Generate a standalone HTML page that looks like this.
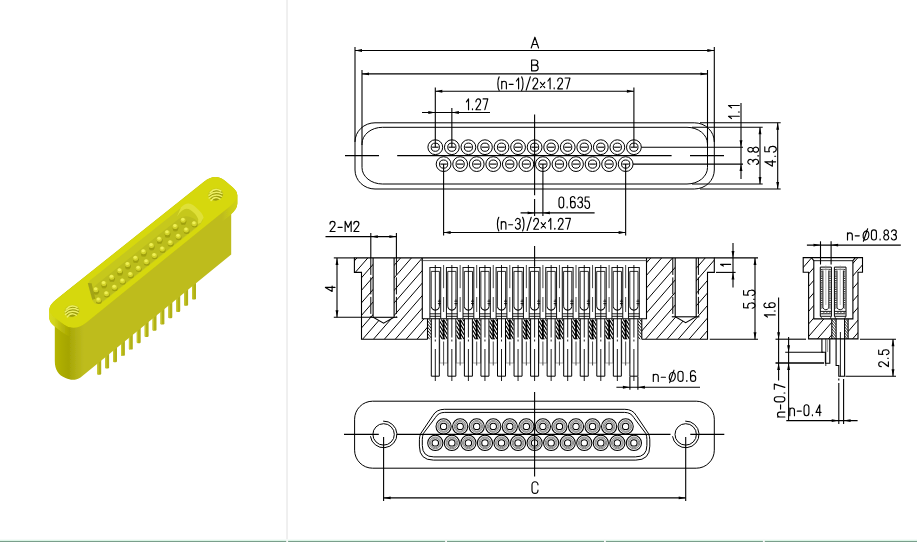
<!DOCTYPE html>
<html><head><meta charset="utf-8"><title>Connector drawing</title>
<style>
html,body{margin:0;padding:0;background:#fff;}
body{width:917px;height:542px;overflow:hidden;font-family:"Liberation Sans",sans-serif;}
svg{display:block;}
</style></head><body>
<svg width="917" height="542" viewBox="0 0 917 542">
<rect x="0" y="0" width="917" height="542" fill="#fff"/>
<rect x="286.1" y="0" width="1.9" height="542" fill="#efefef"/>
<rect x="0" y="539" width="917" height="1" fill="#f5fbf8"/>
<rect x="0" y="540" width="917" height="1" fill="#dbf5e6"/>
<rect x="0" y="541" width="917" height="1" fill="#7a9f8c"/>
<rect x="286.2" y="539.5" width="1.9" height="2.5" fill="#f6f6f6"/>
<rect x="445.1" y="539.5" width="1.9" height="2.5" fill="#f6f6f6"/>
<rect x="604.0" y="539.5" width="1.9" height="2.5" fill="#f6f6f6"/>
<rect x="762.9" y="539.5" width="1.9" height="2.5" fill="#f6f6f6"/>
<rect x="355" y="122.8" width="359.3" height="66.2" rx="20" ry="19" fill="none" stroke="#000" stroke-width="1"/>
<rect x="362" y="127.3" width="345.5" height="56.7" rx="20.5" ry="16.5" fill="none" stroke="#000" stroke-width="1"/>
<line x1="700" y1="122.8" x2="780.7" y2="122.8" stroke="#000" stroke-width="1.1" />
<line x1="700" y1="189" x2="780.7" y2="189" stroke="#000" stroke-width="1.1" />
<line x1="692" y1="127.3" x2="762.7" y2="127.3" stroke="#000" stroke-width="1.1" />
<line x1="692" y1="184" x2="762.7" y2="184" stroke="#000" stroke-width="1.1" />
<line x1="355" y1="47" x2="355" y2="142" stroke="#000" stroke-width="1.1" />
<line x1="714.3" y1="47" x2="714.3" y2="142" stroke="#000" stroke-width="1.1" />
<line x1="362" y1="70" x2="362" y2="145" stroke="#000" stroke-width="1.1" />
<line x1="707.5" y1="70" x2="707.5" y2="145" stroke="#000" stroke-width="1.1" />
<circle cx="435.3" cy="147.2" r="7.4" fill="none" stroke="#000" stroke-width="1"/>
<circle cx="435.3" cy="147.2" r="4.1" fill="none" stroke="#000" stroke-width="1"/>
<line x1="432.1" y1="147.2" x2="438.5" y2="147.2" stroke="#000" stroke-width="1.1" />
<circle cx="451.85" cy="147.2" r="7.4" fill="none" stroke="#000" stroke-width="1"/>
<circle cx="451.85" cy="147.2" r="4.1" fill="none" stroke="#000" stroke-width="1"/>
<line x1="448.65" y1="147.2" x2="455.05" y2="147.2" stroke="#000" stroke-width="1.1" />
<circle cx="468.4" cy="147.2" r="7.4" fill="none" stroke="#000" stroke-width="1"/>
<circle cx="468.4" cy="147.2" r="4.1" fill="none" stroke="#000" stroke-width="1"/>
<line x1="465.2" y1="147.2" x2="471.6" y2="147.2" stroke="#000" stroke-width="1.1" />
<circle cx="484.95" cy="147.2" r="7.4" fill="none" stroke="#000" stroke-width="1"/>
<circle cx="484.95" cy="147.2" r="4.1" fill="none" stroke="#000" stroke-width="1"/>
<line x1="481.75" y1="147.2" x2="488.15" y2="147.2" stroke="#000" stroke-width="1.1" />
<circle cx="501.5" cy="147.2" r="7.4" fill="none" stroke="#000" stroke-width="1"/>
<circle cx="501.5" cy="147.2" r="4.1" fill="none" stroke="#000" stroke-width="1"/>
<line x1="498.3" y1="147.2" x2="504.7" y2="147.2" stroke="#000" stroke-width="1.1" />
<circle cx="518.05" cy="147.2" r="7.4" fill="none" stroke="#000" stroke-width="1"/>
<circle cx="518.05" cy="147.2" r="4.1" fill="none" stroke="#000" stroke-width="1"/>
<line x1="514.85" y1="147.2" x2="521.25" y2="147.2" stroke="#000" stroke-width="1.1" />
<circle cx="534.6" cy="147.2" r="7.4" fill="none" stroke="#000" stroke-width="1"/>
<circle cx="534.6" cy="147.2" r="4.1" fill="none" stroke="#000" stroke-width="1"/>
<line x1="531.4" y1="147.2" x2="537.8" y2="147.2" stroke="#000" stroke-width="1.1" />
<circle cx="551.15" cy="147.2" r="7.4" fill="none" stroke="#000" stroke-width="1"/>
<circle cx="551.15" cy="147.2" r="4.1" fill="none" stroke="#000" stroke-width="1"/>
<line x1="547.95" y1="147.2" x2="554.35" y2="147.2" stroke="#000" stroke-width="1.1" />
<circle cx="567.7" cy="147.2" r="7.4" fill="none" stroke="#000" stroke-width="1"/>
<circle cx="567.7" cy="147.2" r="4.1" fill="none" stroke="#000" stroke-width="1"/>
<line x1="564.5" y1="147.2" x2="570.9" y2="147.2" stroke="#000" stroke-width="1.1" />
<circle cx="584.25" cy="147.2" r="7.4" fill="none" stroke="#000" stroke-width="1"/>
<circle cx="584.25" cy="147.2" r="4.1" fill="none" stroke="#000" stroke-width="1"/>
<line x1="581.05" y1="147.2" x2="587.45" y2="147.2" stroke="#000" stroke-width="1.1" />
<circle cx="600.8" cy="147.2" r="7.4" fill="none" stroke="#000" stroke-width="1"/>
<circle cx="600.8" cy="147.2" r="4.1" fill="none" stroke="#000" stroke-width="1"/>
<line x1="597.6" y1="147.2" x2="604" y2="147.2" stroke="#000" stroke-width="1.1" />
<circle cx="617.35" cy="147.2" r="7.4" fill="none" stroke="#000" stroke-width="1"/>
<circle cx="617.35" cy="147.2" r="4.1" fill="none" stroke="#000" stroke-width="1"/>
<line x1="614.15" y1="147.2" x2="620.55" y2="147.2" stroke="#000" stroke-width="1.1" />
<circle cx="633.9" cy="147.2" r="7.4" fill="none" stroke="#000" stroke-width="1"/>
<circle cx="633.9" cy="147.2" r="4.1" fill="none" stroke="#000" stroke-width="1"/>
<line x1="630.7" y1="147.2" x2="637.1" y2="147.2" stroke="#000" stroke-width="1.1" />
<circle cx="443.6" cy="164.1" r="7.4" fill="none" stroke="#000" stroke-width="1"/>
<circle cx="443.6" cy="164.1" r="4.1" fill="none" stroke="#000" stroke-width="1"/>
<line x1="440.4" y1="164.1" x2="446.8" y2="164.1" stroke="#000" stroke-width="1.1" />
<circle cx="460.15" cy="164.1" r="7.4" fill="none" stroke="#000" stroke-width="1"/>
<circle cx="460.15" cy="164.1" r="4.1" fill="none" stroke="#000" stroke-width="1"/>
<line x1="456.95" y1="164.1" x2="463.35" y2="164.1" stroke="#000" stroke-width="1.1" />
<circle cx="476.7" cy="164.1" r="7.4" fill="none" stroke="#000" stroke-width="1"/>
<circle cx="476.7" cy="164.1" r="4.1" fill="none" stroke="#000" stroke-width="1"/>
<line x1="473.5" y1="164.1" x2="479.9" y2="164.1" stroke="#000" stroke-width="1.1" />
<circle cx="493.25" cy="164.1" r="7.4" fill="none" stroke="#000" stroke-width="1"/>
<circle cx="493.25" cy="164.1" r="4.1" fill="none" stroke="#000" stroke-width="1"/>
<line x1="490.05" y1="164.1" x2="496.45" y2="164.1" stroke="#000" stroke-width="1.1" />
<circle cx="509.8" cy="164.1" r="7.4" fill="none" stroke="#000" stroke-width="1"/>
<circle cx="509.8" cy="164.1" r="4.1" fill="none" stroke="#000" stroke-width="1"/>
<line x1="506.6" y1="164.1" x2="513" y2="164.1" stroke="#000" stroke-width="1.1" />
<circle cx="526.35" cy="164.1" r="7.4" fill="none" stroke="#000" stroke-width="1"/>
<circle cx="526.35" cy="164.1" r="4.1" fill="none" stroke="#000" stroke-width="1"/>
<line x1="523.15" y1="164.1" x2="529.55" y2="164.1" stroke="#000" stroke-width="1.1" />
<circle cx="542.9" cy="164.1" r="7.4" fill="none" stroke="#000" stroke-width="1"/>
<circle cx="542.9" cy="164.1" r="4.1" fill="none" stroke="#000" stroke-width="1"/>
<line x1="539.7" y1="164.1" x2="546.1" y2="164.1" stroke="#000" stroke-width="1.1" />
<circle cx="559.45" cy="164.1" r="7.4" fill="none" stroke="#000" stroke-width="1"/>
<circle cx="559.45" cy="164.1" r="4.1" fill="none" stroke="#000" stroke-width="1"/>
<line x1="556.25" y1="164.1" x2="562.65" y2="164.1" stroke="#000" stroke-width="1.1" />
<circle cx="576" cy="164.1" r="7.4" fill="none" stroke="#000" stroke-width="1"/>
<circle cx="576" cy="164.1" r="4.1" fill="none" stroke="#000" stroke-width="1"/>
<line x1="572.8" y1="164.1" x2="579.2" y2="164.1" stroke="#000" stroke-width="1.1" />
<circle cx="592.55" cy="164.1" r="7.4" fill="none" stroke="#000" stroke-width="1"/>
<circle cx="592.55" cy="164.1" r="4.1" fill="none" stroke="#000" stroke-width="1"/>
<line x1="589.35" y1="164.1" x2="595.75" y2="164.1" stroke="#000" stroke-width="1.1" />
<circle cx="609.1" cy="164.1" r="7.4" fill="none" stroke="#000" stroke-width="1"/>
<circle cx="609.1" cy="164.1" r="4.1" fill="none" stroke="#000" stroke-width="1"/>
<line x1="605.9" y1="164.1" x2="612.3" y2="164.1" stroke="#000" stroke-width="1.1" />
<circle cx="625.65" cy="164.1" r="7.4" fill="none" stroke="#000" stroke-width="1"/>
<circle cx="625.65" cy="164.1" r="4.1" fill="none" stroke="#000" stroke-width="1"/>
<line x1="622.45" y1="164.1" x2="628.85" y2="164.1" stroke="#000" stroke-width="1.1" />
<line x1="345" y1="155.65" x2="379" y2="155.65" stroke="#000" stroke-width="1.1" />
<line x1="397.2" y1="155.65" x2="671.6" y2="155.65" stroke="#000" stroke-width="1.1" />
<line x1="690" y1="155.65" x2="724" y2="155.65" stroke="#000" stroke-width="1.1" />
<line x1="435.3" y1="87.5" x2="435.3" y2="147.2" stroke="#000" stroke-width="1.1" />
<line x1="451.85" y1="108" x2="451.85" y2="147.2" stroke="#000" stroke-width="1.1" />
<line x1="633.9" y1="87.5" x2="633.9" y2="147.2" stroke="#000" stroke-width="1.1" />
<line x1="534.6" y1="114.5" x2="534.6" y2="195.3" stroke="#000" stroke-width="1.1" />
<line x1="534.6" y1="199" x2="534.6" y2="216" stroke="#000" stroke-width="1.1" />
<line x1="542.9" y1="164.1" x2="542.9" y2="216" stroke="#000" stroke-width="1.1" />
<line x1="443.6" y1="164.1" x2="443.6" y2="235.6" stroke="#000" stroke-width="1.1" />
<line x1="625.65" y1="164.1" x2="625.65" y2="235.6" stroke="#000" stroke-width="1.1" />
<line x1="355" y1="50.5" x2="714.3" y2="50.5" stroke="#000" stroke-width="1.1" />
<polygon points="355,50.5 362,49.05 362,51.95" fill="#000"/>
<polygon points="714.3,50.5 707.3,49.05 707.3,51.95" fill="#000"/>
<line x1="362" y1="73.9" x2="707.5" y2="73.9" stroke="#000" stroke-width="1.1" />
<polygon points="362,73.9 369,72.45 369,75.35" fill="#000"/>
<polygon points="707.5,73.9 700.5,72.45 700.5,75.35" fill="#000"/>
<line x1="435.3" y1="91.3" x2="633.9" y2="91.3" stroke="#000" stroke-width="1.1" />
<polygon points="435.3,91.3 442.3,89.85 442.3,92.75" fill="#000"/>
<polygon points="633.9,91.3 626.9,89.85 626.9,92.75" fill="#000"/>
<line x1="422" y1="112.5" x2="490" y2="112.5" stroke="#000" stroke-width="1.1" />
<polygon points="435.3,112.5 428.3,111.05 428.3,113.95" fill="#000"/>
<polygon points="451.85,112.5 458.85,111.05 458.85,113.95" fill="#000"/>
<line x1="520.6" y1="212.9" x2="594.6" y2="212.9" stroke="#000" stroke-width="1.1" />
<polygon points="534.6,212.9 527.6,211.45 527.6,214.35" fill="#000"/>
<polygon points="542.9,212.9 549.9,211.45 549.9,214.35" fill="#000"/>
<line x1="443.6" y1="232.5" x2="625.65" y2="232.5" stroke="#000" stroke-width="1.1" />
<polygon points="443.6,232.5 450.6,231.05 450.6,233.95" fill="#000"/>
<polygon points="625.65,232.5 618.65,231.05 618.65,233.95" fill="#000"/>
<line x1="641.3" y1="147.2" x2="743" y2="147.2" stroke="#000" stroke-width="1.1" />
<line x1="633.05" y1="164.1" x2="743" y2="164.1" stroke="#000" stroke-width="1.1" />
<line x1="741" y1="103" x2="741" y2="179" stroke="#000" stroke-width="1.1" />
<polygon points="741,147.2 739.55,140.2 742.45,140.2" fill="#000"/>
<polygon points="741,164.1 739.55,171.1 742.45,171.1" fill="#000"/>
<line x1="760" y1="127.3" x2="760" y2="184" stroke="#000" stroke-width="1.1" />
<polygon points="760,127.3 758.55,134.3 761.45,134.3" fill="#000"/>
<polygon points="760,184 758.55,177 761.45,177" fill="#000"/>
<line x1="777.7" y1="122.8" x2="777.7" y2="189" stroke="#000" stroke-width="1.1" />
<polygon points="777.7,122.8 776.25,129.8 779.15,129.8" fill="#000"/>
<polygon points="777.7,189 776.25,182 779.15,182" fill="#000"/>
<g role="img" aria-label="A" transform="translate(531.2,37.2) scale(1.4,1.08)" fill="none" stroke="#000" stroke-width="1.15" vector-effect="non-scaling-stroke" stroke-linecap="round" stroke-linejoin="round">
<path transform="translate(0,0) scale(0.88,1)" d="M0,10 L3,0 L6,10 M1,6.8 L5,6.8" vector-effect="non-scaling-stroke"/>
</g>
<g role="img" aria-label="B" transform="translate(531.6,60) scale(1.36,1.08)" fill="none" stroke="#000" stroke-width="1.15" vector-effect="non-scaling-stroke" stroke-linecap="round" stroke-linejoin="round">
<path transform="translate(0,0) scale(0.88,1)" d="M0,0 L0,10 L2.9,10 A2.6,2.65 0 0 0 2.9,4.7 L0,4.7 M2.9,4.7 A2.3,2.35 0 0 0 2.9,0 L0,0" vector-effect="non-scaling-stroke"/>
</g>
<g role="img" aria-label="(n-1)/2×1.27" transform="translate(497.2,78) scale(1.02,1.08)" fill="none" stroke="#000" stroke-width="1.15" vector-effect="non-scaling-stroke" stroke-linecap="round" stroke-linejoin="round">
<path transform="translate(0,0) scale(0.88,1)" d="M2.2,-1 C0.2,1.5 0.2,9 2.2,11.6" vector-effect="non-scaling-stroke"/>
<path transform="translate(4.44,0) scale(0.88,1)" d="M0,3 L0,10 M0,5.3 A2.6,2.3 0 0 1 5.2,5.3 L5.2,10" vector-effect="non-scaling-stroke"/>
<path transform="translate(11.51,0) scale(0.88,1)" d="M0.3,5.9 L4.7,5.9" vector-effect="non-scaling-stroke"/>
<path transform="translate(18.41,0) scale(0.88,1)" d="M0.5,2.8 L2.9,0 L2.9,10" vector-effect="non-scaling-stroke"/>
<path transform="translate(23.99,0) scale(0.88,1)" d="M0,-1 C2,1.5 2,9 0,11.6" vector-effect="non-scaling-stroke"/>
<path transform="translate(28.43,0) scale(0.88,1)" d="M0,11.2 L4.6,-1" vector-effect="non-scaling-stroke"/>
<path transform="translate(34.98,0) scale(0.88,1)" d="M0,2.7 A2.7,2.7 0 0 1 5.4,2.7 C5.4,4.6 2.6,6.2 0,10 L5.4,10" vector-effect="non-scaling-stroke"/>
<path transform="translate(42.23,0) scale(0.88,1)" d="M0.2,4.0 L5.0,8.9 M5.0,4.0 L0.2,8.9" vector-effect="non-scaling-stroke"/>
<path transform="translate(49.3,0) scale(0.88,1)" d="M0.5,2.8 L2.9,0 L2.9,10" vector-effect="non-scaling-stroke"/>
<path transform="translate(54.88,0) scale(0.88,1)" d="M1.1,9.2 L1.1,10" vector-effect="non-scaling-stroke"/>
<path transform="translate(59.32,0) scale(0.88,1)" d="M0,2.7 A2.7,2.7 0 0 1 5.4,2.7 C5.4,4.6 2.6,6.2 0,10 L5.4,10" vector-effect="non-scaling-stroke"/>
<path transform="translate(66.57,0) scale(0.88,1)" d="M0,0 L5.4,0 L2,10" vector-effect="non-scaling-stroke"/>
</g>
<g role="img" aria-label="1.27" transform="translate(466,98.9) scale(0.99,1.08)" fill="none" stroke="#000" stroke-width="1.15" vector-effect="non-scaling-stroke" stroke-linecap="round" stroke-linejoin="round">
<path transform="translate(0,0) scale(0.88,1)" d="M0.5,2.8 L2.9,0 L2.9,10" vector-effect="non-scaling-stroke"/>
<path transform="translate(5.58,0) scale(0.88,1)" d="M1.1,9.2 L1.1,10" vector-effect="non-scaling-stroke"/>
<path transform="translate(10.02,0) scale(0.88,1)" d="M0,2.7 A2.7,2.7 0 0 1 5.4,2.7 C5.4,4.6 2.6,6.2 0,10 L5.4,10" vector-effect="non-scaling-stroke"/>
<path transform="translate(17.27,0) scale(0.88,1)" d="M0,0 L5.4,0 L2,10" vector-effect="non-scaling-stroke"/>
</g>
<g role="img" aria-label="0.635" transform="translate(559,197) scale(0.99,1.08)" fill="none" stroke="#000" stroke-width="1.15" vector-effect="non-scaling-stroke" stroke-linecap="round" stroke-linejoin="round">
<path transform="translate(0,0) scale(0.88,1)" d="M0,2.7 A2.7,2.7 0 0 1 5.4,2.7 L5.4,7.3 A2.7,2.7 0 0 1 0,7.3 Z" vector-effect="non-scaling-stroke"/>
<path transform="translate(7.25,0) scale(0.88,1)" d="M1.1,9.2 L1.1,10" vector-effect="non-scaling-stroke"/>
<path transform="translate(11.69,0) scale(0.88,1)" d="M5,1.2 A2.6,2.4 0 0 0 0,2.8 L0,7.3 A2.7,2.7 0 1 0 5.4,7.3 L5.4,6.8 A2.7,2.7 0 0 0 0,6.8" vector-effect="non-scaling-stroke"/>
<path transform="translate(18.94,0) scale(0.88,1)" d="M0.2,2 A2.6,2.4 0 1 1 2.4,4.8 A2.8,2.6 0 1 1 0,8" vector-effect="non-scaling-stroke"/>
<path transform="translate(26.1,0) scale(0.88,1)" d="M5,0 L0.5,0 L0.3,4.3 C1.5,3.4 5.4,3.2 5.4,6.8 A2.7,3.2 0 0 1 0,8" vector-effect="non-scaling-stroke"/>
</g>
<g role="img" aria-label="(n-3)/2×1.27" transform="translate(496.8,218.4) scale(1.01,1.08)" fill="none" stroke="#000" stroke-width="1.15" vector-effect="non-scaling-stroke" stroke-linecap="round" stroke-linejoin="round">
<path transform="translate(0,0) scale(0.88,1)" d="M2.2,-1 C0.2,1.5 0.2,9 2.2,11.6" vector-effect="non-scaling-stroke"/>
<path transform="translate(4.44,0) scale(0.88,1)" d="M0,3 L0,10 M0,5.3 A2.6,2.3 0 0 1 5.2,5.3 L5.2,10" vector-effect="non-scaling-stroke"/>
<path transform="translate(11.51,0) scale(0.88,1)" d="M0.3,5.9 L4.7,5.9" vector-effect="non-scaling-stroke"/>
<path transform="translate(18.41,0) scale(0.88,1)" d="M0.2,2 A2.6,2.4 0 1 1 2.4,4.8 A2.8,2.6 0 1 1 0,8" vector-effect="non-scaling-stroke"/>
<path transform="translate(25.58,0) scale(0.88,1)" d="M0,-1 C2,1.5 2,9 0,11.6" vector-effect="non-scaling-stroke"/>
<path transform="translate(30.01,0) scale(0.88,1)" d="M0,11.2 L4.6,-1" vector-effect="non-scaling-stroke"/>
<path transform="translate(36.56,0) scale(0.88,1)" d="M0,2.7 A2.7,2.7 0 0 1 5.4,2.7 C5.4,4.6 2.6,6.2 0,10 L5.4,10" vector-effect="non-scaling-stroke"/>
<path transform="translate(43.81,0) scale(0.88,1)" d="M0.2,4.0 L5.0,8.9 M5.0,4.0 L0.2,8.9" vector-effect="non-scaling-stroke"/>
<path transform="translate(50.89,0) scale(0.88,1)" d="M0.5,2.8 L2.9,0 L2.9,10" vector-effect="non-scaling-stroke"/>
<path transform="translate(56.47,0) scale(0.88,1)" d="M1.1,9.2 L1.1,10" vector-effect="non-scaling-stroke"/>
<path transform="translate(60.9,0) scale(0.88,1)" d="M0,2.7 A2.7,2.7 0 0 1 5.4,2.7 C5.4,4.6 2.6,6.2 0,10 L5.4,10" vector-effect="non-scaling-stroke"/>
<path transform="translate(68.16,0) scale(0.88,1)" d="M0,0 L5.4,0 L2,10" vector-effect="non-scaling-stroke"/>
</g>
<g role="img" aria-label="1.1" transform="rotate(-90 739.3 119) translate(739.3,108.2) scale(1.07,1.08)" fill="none" stroke="#000" stroke-width="1.15" vector-effect="non-scaling-stroke" stroke-linecap="round" stroke-linejoin="round">
<path transform="translate(0,0) scale(0.88,1)" d="M0.5,2.8 L2.9,0 L2.9,10" vector-effect="non-scaling-stroke"/>
<path transform="translate(5.58,0) scale(0.88,1)" d="M1.1,9.2 L1.1,10" vector-effect="non-scaling-stroke"/>
<path transform="translate(10.02,0) scale(0.88,1)" d="M0.5,2.8 L2.9,0 L2.9,10" vector-effect="non-scaling-stroke"/>
</g>
<g role="img" aria-label="3.8" transform="rotate(-90 758.6 164.4) translate(758.6,153.6) scale(1.05,1.08)" fill="none" stroke="#000" stroke-width="1.15" vector-effect="non-scaling-stroke" stroke-linecap="round" stroke-linejoin="round">
<path transform="translate(0,0) scale(0.88,1)" d="M0.2,2 A2.6,2.4 0 1 1 2.4,4.8 A2.8,2.6 0 1 1 0,8" vector-effect="non-scaling-stroke"/>
<path transform="translate(7.16,0) scale(0.88,1)" d="M1.1,9.2 L1.1,10" vector-effect="non-scaling-stroke"/>
<path transform="translate(11.6,0) scale(0.88,1)" d="M2.7,4.9 A2.4,2.45 0 1 1 2.71,4.9 Z M2.7,4.9 A2.7,2.55 0 1 0 2.71,4.9 Z" vector-effect="non-scaling-stroke"/>
</g>
<g role="img" aria-label="4.5" transform="rotate(-90 775.6 166.2) translate(775.6,155.4) scale(1.19,1.08)" fill="none" stroke="#000" stroke-width="1.15" vector-effect="non-scaling-stroke" stroke-linecap="round" stroke-linejoin="round">
<path transform="translate(0,0) scale(0.88,1)" d="M4.2,10 L4.2,0 L0,7 L5.6,7" vector-effect="non-scaling-stroke"/>
<path transform="translate(7.43,0) scale(0.88,1)" d="M1.1,9.2 L1.1,10" vector-effect="non-scaling-stroke"/>
<path transform="translate(11.86,0) scale(0.88,1)" d="M5,0 L0.5,0 L0.3,4.3 C1.5,3.4 5.4,3.2 5.4,6.8 A2.7,3.2 0 0 1 0,8" vector-effect="non-scaling-stroke"/>
</g>
<defs>
<clipPath id="cpL"><polygon points="354.4,257.9 373.1,257.9 373.1,317.3 383.6,323.2 394.1,317.3 394.1,257.9 422.3,257.9 422.3,318.8 427.5,318.8 427.5,339.3 361.5,339.3 361.5,272.4 354.4,272.4"/></clipPath>
<clipPath id="cpR"><polygon points="714.3,257.9 696.2,257.9 696.2,316.8 685.6,322.7 675.2,316.8 675.2,257.9 646.5,257.9 646.5,318.8 641.8,318.8 641.8,339.3 707.5,339.3 707.5,272.4 714.3,272.4"/></clipPath>
</defs>
<g clip-path="url(#cpL)">
<line x1="264.4" y1="339.3" x2="335.18" y2="257.9" stroke="#000" stroke-width="1.0" />
<line x1="275.3" y1="339.3" x2="346.08" y2="257.9" stroke="#000" stroke-width="1.0" />
<line x1="286.2" y1="339.3" x2="356.98" y2="257.9" stroke="#000" stroke-width="1.0" />
<line x1="297.1" y1="339.3" x2="367.88" y2="257.9" stroke="#000" stroke-width="1.0" />
<line x1="308" y1="339.3" x2="378.78" y2="257.9" stroke="#000" stroke-width="1.0" />
<line x1="318.9" y1="339.3" x2="389.68" y2="257.9" stroke="#000" stroke-width="1.0" />
<line x1="329.8" y1="339.3" x2="400.58" y2="257.9" stroke="#000" stroke-width="1.0" />
<line x1="340.7" y1="339.3" x2="411.48" y2="257.9" stroke="#000" stroke-width="1.0" />
<line x1="351.6" y1="339.3" x2="422.38" y2="257.9" stroke="#000" stroke-width="1.0" />
<line x1="362.5" y1="339.3" x2="433.28" y2="257.9" stroke="#000" stroke-width="1.0" />
<line x1="373.4" y1="339.3" x2="444.18" y2="257.9" stroke="#000" stroke-width="1.0" />
<line x1="384.3" y1="339.3" x2="455.08" y2="257.9" stroke="#000" stroke-width="1.0" />
<line x1="395.2" y1="339.3" x2="465.98" y2="257.9" stroke="#000" stroke-width="1.0" />
<line x1="406.1" y1="339.3" x2="476.88" y2="257.9" stroke="#000" stroke-width="1.0" />
<line x1="417" y1="339.3" x2="487.78" y2="257.9" stroke="#000" stroke-width="1.0" />
<line x1="427.9" y1="339.3" x2="498.68" y2="257.9" stroke="#000" stroke-width="1.0" />
<line x1="438.8" y1="339.3" x2="509.58" y2="257.9" stroke="#000" stroke-width="1.0" />
<line x1="449.7" y1="339.3" x2="520.48" y2="257.9" stroke="#000" stroke-width="1.0" />
<line x1="460.6" y1="339.3" x2="531.38" y2="257.9" stroke="#000" stroke-width="1.0" />
<line x1="471.5" y1="339.3" x2="542.28" y2="257.9" stroke="#000" stroke-width="1.0" />
<line x1="482.4" y1="339.3" x2="553.18" y2="257.9" stroke="#000" stroke-width="1.0" />
<line x1="493.3" y1="339.3" x2="564.08" y2="257.9" stroke="#000" stroke-width="1.0" />
<line x1="504.2" y1="339.3" x2="574.98" y2="257.9" stroke="#000" stroke-width="1.0" />
<line x1="515.1" y1="339.3" x2="585.88" y2="257.9" stroke="#000" stroke-width="1.0" />
</g>
<g clip-path="url(#cpR)">
<line x1="558.2" y1="339.3" x2="628.98" y2="257.9" stroke="#000" stroke-width="1.0" />
<line x1="569.1" y1="339.3" x2="639.88" y2="257.9" stroke="#000" stroke-width="1.0" />
<line x1="580" y1="339.3" x2="650.78" y2="257.9" stroke="#000" stroke-width="1.0" />
<line x1="590.9" y1="339.3" x2="661.68" y2="257.9" stroke="#000" stroke-width="1.0" />
<line x1="601.8" y1="339.3" x2="672.58" y2="257.9" stroke="#000" stroke-width="1.0" />
<line x1="612.7" y1="339.3" x2="683.48" y2="257.9" stroke="#000" stroke-width="1.0" />
<line x1="623.6" y1="339.3" x2="694.38" y2="257.9" stroke="#000" stroke-width="1.0" />
<line x1="634.5" y1="339.3" x2="705.28" y2="257.9" stroke="#000" stroke-width="1.0" />
<line x1="645.4" y1="339.3" x2="716.18" y2="257.9" stroke="#000" stroke-width="1.0" />
<line x1="656.3" y1="339.3" x2="727.08" y2="257.9" stroke="#000" stroke-width="1.0" />
<line x1="667.2" y1="339.3" x2="737.98" y2="257.9" stroke="#000" stroke-width="1.0" />
<line x1="678.1" y1="339.3" x2="748.88" y2="257.9" stroke="#000" stroke-width="1.0" />
<line x1="689" y1="339.3" x2="759.78" y2="257.9" stroke="#000" stroke-width="1.0" />
<line x1="699.9" y1="339.3" x2="770.68" y2="257.9" stroke="#000" stroke-width="1.0" />
<line x1="710.8" y1="339.3" x2="781.58" y2="257.9" stroke="#000" stroke-width="1.0" />
<line x1="721.7" y1="339.3" x2="792.48" y2="257.9" stroke="#000" stroke-width="1.0" />
<line x1="732.6" y1="339.3" x2="803.38" y2="257.9" stroke="#000" stroke-width="1.0" />
<line x1="743.5" y1="339.3" x2="814.28" y2="257.9" stroke="#000" stroke-width="1.0" />
<line x1="754.4" y1="339.3" x2="825.18" y2="257.9" stroke="#000" stroke-width="1.0" />
<line x1="765.3" y1="339.3" x2="836.08" y2="257.9" stroke="#000" stroke-width="1.0" />
<line x1="776.2" y1="339.3" x2="846.98" y2="257.9" stroke="#000" stroke-width="1.0" />
<line x1="787.1" y1="339.3" x2="857.88" y2="257.9" stroke="#000" stroke-width="1.0" />
<line x1="798" y1="339.3" x2="868.78" y2="257.9" stroke="#000" stroke-width="1.0" />
</g>
<path d="M427.5,339.3 L361.5,339.3 L361.5,272.4 L354.4,272.4 L354.4,257.9 L714.3,257.9 L714.3,272.4 L707.5,272.4 L707.5,339.3 L641.8,339.3" stroke="#000" stroke-width="1.1" fill="none" />
<path d="M422.3,257.9 L422.3,318.8 L646.5,318.8 L646.5,257.9" stroke="#000" stroke-width="1.1" fill="none" />
<line x1="421.2" y1="260.6" x2="647.6" y2="260.6" stroke="#333" stroke-width="0.8" />
<path d="M373.1,257.9 L373.1,317.3 L383.6,323.2 L394.1,317.3 L394.1,257.9" stroke="#000" stroke-width="1.1" fill="none" />
<line x1="369.8" y1="317.3" x2="397.4" y2="317.3" stroke="#000" stroke-width="1.1" />
<line x1="370.8" y1="257.9" x2="370.8" y2="317.3" stroke="#000" stroke-width="1" stroke-dasharray="17 2.5"/>
<line x1="396.4" y1="257.9" x2="396.4" y2="317.3" stroke="#000" stroke-width="1" stroke-dasharray="17 2.5"/>
<path d="M675.2,257.9 L675.2,316.8 L685.7,322.7 L696.2,316.8 L696.2,257.9" stroke="#000" stroke-width="1.1" fill="none" />
<line x1="671.8" y1="316.8" x2="699.4" y2="316.8" stroke="#000" stroke-width="1.1" />
<line x1="672.8" y1="257.9" x2="672.8" y2="316.8" stroke="#000" stroke-width="1" stroke-dasharray="17 2.5"/>
<line x1="698.4" y1="257.9" x2="698.4" y2="316.8" stroke="#000" stroke-width="1" stroke-dasharray="17 2.5"/>
<defs><clipPath id="cpnl"><rect x="427.5" y="319.3" width="3.8" height="20.0"/></clipPath><clipPath id="cpnr"><rect x="637.9" y="319.3" width="3.9" height="20.0"/></clipPath></defs>
<g clip-path="url(#cpnl)">
<line x1="427.5" y1="311.04" x2="431.3" y2="315.6" stroke="#000" stroke-width="0.9" />
<line x1="427.5" y1="314.24" x2="431.3" y2="318.8" stroke="#000" stroke-width="0.9" />
<line x1="427.5" y1="317.44" x2="431.3" y2="322" stroke="#000" stroke-width="0.9" />
<line x1="427.5" y1="320.64" x2="431.3" y2="325.2" stroke="#000" stroke-width="0.9" />
<line x1="427.5" y1="323.84" x2="431.3" y2="328.4" stroke="#000" stroke-width="0.9" />
<line x1="427.5" y1="327.04" x2="431.3" y2="331.6" stroke="#000" stroke-width="0.9" />
<line x1="427.5" y1="330.24" x2="431.3" y2="334.8" stroke="#000" stroke-width="0.9" />
<line x1="427.5" y1="333.44" x2="431.3" y2="338" stroke="#000" stroke-width="0.9" />
<line x1="427.5" y1="336.64" x2="431.3" y2="341.2" stroke="#000" stroke-width="0.9" />
<line x1="427.5" y1="339.84" x2="431.3" y2="344.4" stroke="#000" stroke-width="0.9" />
</g>
<g clip-path="url(#cpnr)">
<line x1="637.9" y1="310.92" x2="641.8" y2="315.6" stroke="#000" stroke-width="0.9" />
<line x1="637.9" y1="314.12" x2="641.8" y2="318.8" stroke="#000" stroke-width="0.9" />
<line x1="637.9" y1="317.32" x2="641.8" y2="322" stroke="#000" stroke-width="0.9" />
<line x1="637.9" y1="320.52" x2="641.8" y2="325.2" stroke="#000" stroke-width="0.9" />
<line x1="637.9" y1="323.72" x2="641.8" y2="328.4" stroke="#000" stroke-width="0.9" />
<line x1="637.9" y1="326.92" x2="641.8" y2="331.6" stroke="#000" stroke-width="0.9" />
<line x1="637.9" y1="330.12" x2="641.8" y2="334.8" stroke="#000" stroke-width="0.9" />
<line x1="637.9" y1="333.32" x2="641.8" y2="338" stroke="#000" stroke-width="0.9" />
<line x1="637.9" y1="336.52" x2="641.8" y2="341.2" stroke="#000" stroke-width="0.9" />
<line x1="637.9" y1="339.72" x2="641.8" y2="344.4" stroke="#000" stroke-width="0.9" />
</g>
<line x1="427.5" y1="318.8" x2="427.5" y2="339.3" stroke="#000" stroke-width="1.1" />
<line x1="641.8" y1="318.8" x2="641.8" y2="339.3" stroke="#000" stroke-width="1.1" />
<defs>
<g id="sock" fill="none" stroke="#000">
<path d="M-5.4,318.8 L-5.4,267.5 L5.4,267.5 L5.4,318.8" stroke-width="1.05" stroke="#1a1a1a"/>
<path d="M-4.1,306.5 L-4.1,271.4 L4.1,271.4 L4.1,300.5 M4.1,304.5 L4.1,306.5" stroke-width="1.0" stroke="#2a2a2a"/>
<path d="M-4.1,306.5 Q-3.6,309.6 0,310.2 Q3.6,309.6 4.1,306.5" stroke-width="1.1"/>
<path d="M2.6,301.2 L5.6,301.2 M2.6,303.6 L5.6,303.6 M4.1,299.5 L4.1,305.5" stroke-width="0.9"/>
<path d="M-5.4,313.8 L5.4,313.8 M-5.4,316.3 L5.4,316.3" stroke-width="0.9"/>
<path d="M-4,318.8 L-4,376.2 L4,376.2 L4,318.8" stroke-width="1"/>
<path d="M0,265 L0,337.5 M0,339.5 L0,341.5 M0,349 L0,381" stroke-width="0.9"/>
</g>
<clipPath id="cpmid"><rect x="-3.9" y="319.3" width="7.8" height="20"/></clipPath>
<g id="mid" fill="none" stroke="#000">
<rect x="-3.9" y="319.3" width="7.8" height="20" fill="#fff" stroke="none"/>
<path d="M-3.9,316.8 L-0.6,322.3 M-3.9,321.3 L-0.6,326.8 M-3.9,325.8 L-0.6,331.3 M-3.9,330.3 L-0.6,335.8 M-3.9,334.8 L-0.6,340.3" stroke="#000" stroke-width="1.25" clip-path="url(#cpmid)"/>
<path d="M0.6,315.8 L3.9,321.3 M0.6,320.3 L3.9,325.8 M0.6,324.8 L3.9,330.3 M0.6,329.3 L3.9,334.8 M0.6,333.8 L3.9,339.3 M0.6,338.3 L3.9,343.8" stroke="#000" stroke-width="1.25" clip-path="url(#cpmid)"/>
<path d="M0,319.3 L0,339.3" stroke-width="1.9"/>
<path d="M-3.9,339.3 L-3.9,363 L3.9,363 L3.9,339.3" stroke="#a8a8a8" stroke-width="1.2"/>
<path d="M0,265 L0,288.2 M0,297 L0,312 M0,341.5 L0,365.5" stroke-width="0.9" stroke="#333"/>
</g>
</defs>
<use href="#mid" x="443.6" y="0"/>
<use href="#mid" x="460.15" y="0"/>
<use href="#mid" x="476.7" y="0"/>
<use href="#mid" x="493.25" y="0"/>
<use href="#mid" x="509.8" y="0"/>
<use href="#mid" x="526.35" y="0"/>
<use href="#mid" x="542.9" y="0"/>
<use href="#mid" x="559.45" y="0"/>
<use href="#mid" x="576" y="0"/>
<use href="#mid" x="592.55" y="0"/>
<use href="#mid" x="609.1" y="0"/>
<use href="#mid" x="625.65" y="0"/>
<use href="#sock" x="435.3" y="0"/>
<use href="#sock" x="451.85" y="0"/>
<use href="#sock" x="468.4" y="0"/>
<use href="#sock" x="484.95" y="0"/>
<use href="#sock" x="501.5" y="0"/>
<use href="#sock" x="518.05" y="0"/>
<use href="#sock" x="534.6" y="0"/>
<use href="#sock" x="551.15" y="0"/>
<use href="#sock" x="567.7" y="0"/>
<use href="#sock" x="584.25" y="0"/>
<use href="#sock" x="600.8" y="0"/>
<use href="#sock" x="617.35" y="0"/>
<use href="#sock" x="633.9" y="0"/>
<line x1="534.6" y1="246" x2="534.6" y2="266" stroke="#000" stroke-width="1.1" />
<line x1="325.5" y1="236.6" x2="396.4" y2="236.6" stroke="#000" stroke-width="1.1" />
<line x1="370.8" y1="233" x2="370.8" y2="257.9" stroke="#000" stroke-width="1.1" />
<line x1="396.4" y1="233" x2="396.4" y2="257.9" stroke="#000" stroke-width="1.1" />
<polygon points="370.8,236.6 377.8,235.15 377.8,238.05" fill="#000"/>
<polygon points="396.4,236.6 389.4,235.15 389.4,238.05" fill="#000"/>
<g role="img" aria-label="2-M2" transform="translate(330,221.3) scale(1.07,1.02)" fill="none" stroke="#000" stroke-width="1.15" vector-effect="non-scaling-stroke" stroke-linecap="round" stroke-linejoin="round">
<path transform="translate(0,0) scale(0.88,1)" d="M0,2.7 A2.7,2.7 0 0 1 5.4,2.7 C5.4,4.6 2.6,6.2 0,10 L5.4,10" vector-effect="non-scaling-stroke"/>
<path transform="translate(7.25,0) scale(0.88,1)" d="M0.3,5.9 L4.7,5.9" vector-effect="non-scaling-stroke"/>
<path transform="translate(14.15,0) scale(0.88,1)" d="M0,10 L0,0 L3.2,6 L6.4,0 L6.4,10" vector-effect="non-scaling-stroke"/>
<path transform="translate(22.28,0) scale(0.88,1)" d="M0,2.7 A2.7,2.7 0 0 1 5.4,2.7 C5.4,4.6 2.6,6.2 0,10 L5.4,10" vector-effect="non-scaling-stroke"/>
</g>
<line x1="333.8" y1="257.9" x2="354.4" y2="257.9" stroke="#000" stroke-width="1.1" />
<line x1="333.8" y1="317.3" x2="371" y2="317.3" stroke="#000" stroke-width="1.1" />
<line x1="337" y1="257.9" x2="337" y2="317.3" stroke="#000" stroke-width="1.1" />
<polygon points="337,257.9 335.55,264.9 338.45,264.9" fill="#000"/>
<polygon points="337,317.3 335.55,310.3 338.45,310.3" fill="#000"/>
<g role="img" aria-label="4" transform="rotate(-90 335 291.4) translate(335,281.8) scale(1.08,0.96)" fill="none" stroke="#000" stroke-width="1.15" vector-effect="non-scaling-stroke" stroke-linecap="round" stroke-linejoin="round">
<path transform="translate(0,0) scale(0.88,1)" d="M4.2,10 L4.2,0 L0,7 L5.6,7" vector-effect="non-scaling-stroke"/>
</g>
<line x1="714.3" y1="257.9" x2="758" y2="257.9" stroke="#000" stroke-width="1.1" />
<line x1="716" y1="272.4" x2="735.6" y2="272.4" stroke="#000" stroke-width="1.1" />
<line x1="733" y1="243" x2="733" y2="287.4" stroke="#000" stroke-width="1.1" />
<polygon points="733,257.9 731.55,250.9 734.45,250.9" fill="#000"/>
<polygon points="733,272.4 731.55,279.4 734.45,279.4" fill="#000"/>
<g role="img" aria-label="1" transform="rotate(-90 730.6 266.4) translate(730.6,256.4) scale(0.78,1)" fill="none" stroke="#000" stroke-width="1.15" vector-effect="non-scaling-stroke" stroke-linecap="round" stroke-linejoin="round">
<path transform="translate(0,0) scale(0.88,1)" d="M0.5,2.8 L2.9,0 L2.9,10" vector-effect="non-scaling-stroke"/>
</g>
<line x1="709.7" y1="339.3" x2="758" y2="339.3" stroke="#000" stroke-width="1.1" />
<line x1="755" y1="257.9" x2="755" y2="339.3" stroke="#000" stroke-width="1.1" />
<polygon points="755,257.9 753.55,264.9 756.45,264.9" fill="#000"/>
<polygon points="755,339.3 753.55,332.3 756.45,332.3" fill="#000"/>
<g role="img" aria-label="5.5" transform="rotate(-90 754.4 308.2) translate(754.4,297.4) scale(1.09,1.08)" fill="none" stroke="#000" stroke-width="1.15" vector-effect="non-scaling-stroke" stroke-linecap="round" stroke-linejoin="round">
<path transform="translate(0,0) scale(0.88,1)" d="M5,0 L0.5,0 L0.3,4.3 C1.5,3.4 5.4,3.2 5.4,6.8 A2.7,3.2 0 0 1 0,8" vector-effect="non-scaling-stroke"/>
<path transform="translate(7.25,0) scale(0.88,1)" d="M1.1,9.2 L1.1,10" vector-effect="non-scaling-stroke"/>
<path transform="translate(11.69,0) scale(0.88,1)" d="M5,0 L0.5,0 L0.3,4.3 C1.5,3.4 5.4,3.2 5.4,6.8 A2.7,3.2 0 0 1 0,8" vector-effect="non-scaling-stroke"/>
</g>
<line x1="616.4" y1="387.2" x2="700" y2="387.2" stroke="#000" stroke-width="1.1" />
<line x1="629.9" y1="376.4" x2="629.9" y2="389.7" stroke="#000" stroke-width="1.1" />
<line x1="637.9" y1="376.4" x2="637.9" y2="389.7" stroke="#000" stroke-width="1.1" />
<polygon points="629.9,387.2 622.9,385.75 622.9,388.65" fill="#000"/>
<polygon points="637.9,387.2 644.9,385.75 644.9,388.65" fill="#000"/>
<g role="img" aria-label="n-Φ0.6" transform="translate(653.3,371.2) scale(1.08,1.02)" fill="none" stroke="#000" stroke-width="1.15" vector-effect="non-scaling-stroke" stroke-linecap="round" stroke-linejoin="round">
<path transform="translate(0,0) scale(0.88,1)" d="M0,3 L0,10 M0,5.3 A2.6,2.3 0 0 1 5.2,5.3 L5.2,10" vector-effect="non-scaling-stroke"/>
<path transform="translate(7.08,0) scale(0.88,1)" d="M0.3,5.9 L4.7,5.9" vector-effect="non-scaling-stroke"/>
<path transform="translate(13.98,0) scale(0.88,1)" d="M4.6,1.0 A3.1,4.5 12 1 1 4.59,1.0 Z M1.3,11.2 L5.9,-1.0" vector-effect="non-scaling-stroke"/>
<path transform="translate(22.81,0) scale(0.88,1)" d="M0,2.7 A2.7,2.7 0 0 1 5.4,2.7 L5.4,7.3 A2.7,2.7 0 0 1 0,7.3 Z" vector-effect="non-scaling-stroke"/>
<path transform="translate(30.06,0) scale(0.88,1)" d="M1.1,9.2 L1.1,10" vector-effect="non-scaling-stroke"/>
<path transform="translate(34.5,0) scale(0.88,1)" d="M5,1.2 A2.6,2.4 0 0 0 0,2.8 L0,7.3 A2.7,2.7 0 1 0 5.4,7.3 L5.4,6.8 A2.7,2.7 0 0 0 0,6.8" vector-effect="non-scaling-stroke"/>
</g>
<rect x="354.6" y="401.2" width="359.7" height="67" rx="18" ry="18" fill="none" stroke="#000" stroke-width="1.0"/>
<path d="M444.4,409.3 L624.8,409.3 Q632.8,409.3 636.4,415.7 L648.6,433.75 Q649.8,436.75 649.8,439.75 L649.8,446.1 Q649.8,460.1 635.8,460.1 L433.4,460.1 Q419.4,460.1 419.4,446.1 L419.4,439.75 Q419.4,436.75 420.6,433.75 L432.8,415.7 Q436.4,409.3 444.4,409.3 Z" stroke="#000" stroke-width="1.0" fill="none" />
<path d="M444.8,412.4 L624.4,412.4 Q630.9,412.4 633.82,417.6 L645.7,433.32 Q646.9,436.32 646.9,439.32 L646.9,445.4 Q646.9,456.9 635.4,456.9 L433.8,456.9 Q422.3,456.9 422.3,445.4 L422.3,439.32 Q422.3,436.32 423.5,433.32 L435.38,417.6 Q438.3,412.4 444.8,412.4 Z" stroke="#000" stroke-width="1.0" fill="none" />
<circle cx="443.6" cy="426.4" r="7.6" fill="none" stroke="#000" stroke-width="1.05"/>
<circle cx="443.6" cy="426.4" r="5.9" fill="none" stroke="#333" stroke-width="0.6"/>
<circle cx="443.6" cy="426.4" r="4.8" fill="none" stroke="#333" stroke-width="0.6"/>
<circle cx="443.6" cy="426.4" r="3.2" fill="none" stroke="#000" stroke-width="1.05"/>
<circle cx="460.15" cy="426.4" r="7.6" fill="none" stroke="#000" stroke-width="1.05"/>
<circle cx="460.15" cy="426.4" r="5.9" fill="none" stroke="#333" stroke-width="0.6"/>
<circle cx="460.15" cy="426.4" r="4.8" fill="none" stroke="#333" stroke-width="0.6"/>
<circle cx="460.15" cy="426.4" r="3.2" fill="none" stroke="#000" stroke-width="1.05"/>
<circle cx="476.7" cy="426.4" r="7.6" fill="none" stroke="#000" stroke-width="1.05"/>
<circle cx="476.7" cy="426.4" r="5.9" fill="none" stroke="#333" stroke-width="0.6"/>
<circle cx="476.7" cy="426.4" r="4.8" fill="none" stroke="#333" stroke-width="0.6"/>
<circle cx="476.7" cy="426.4" r="3.2" fill="none" stroke="#000" stroke-width="1.05"/>
<circle cx="493.25" cy="426.4" r="7.6" fill="none" stroke="#000" stroke-width="1.05"/>
<circle cx="493.25" cy="426.4" r="5.9" fill="none" stroke="#333" stroke-width="0.6"/>
<circle cx="493.25" cy="426.4" r="4.8" fill="none" stroke="#333" stroke-width="0.6"/>
<circle cx="493.25" cy="426.4" r="3.2" fill="none" stroke="#000" stroke-width="1.05"/>
<circle cx="509.8" cy="426.4" r="7.6" fill="none" stroke="#000" stroke-width="1.05"/>
<circle cx="509.8" cy="426.4" r="5.9" fill="none" stroke="#333" stroke-width="0.6"/>
<circle cx="509.8" cy="426.4" r="4.8" fill="none" stroke="#333" stroke-width="0.6"/>
<circle cx="509.8" cy="426.4" r="3.2" fill="none" stroke="#000" stroke-width="1.05"/>
<circle cx="526.35" cy="426.4" r="7.6" fill="none" stroke="#000" stroke-width="1.05"/>
<circle cx="526.35" cy="426.4" r="5.9" fill="none" stroke="#333" stroke-width="0.6"/>
<circle cx="526.35" cy="426.4" r="4.8" fill="none" stroke="#333" stroke-width="0.6"/>
<circle cx="526.35" cy="426.4" r="3.2" fill="none" stroke="#000" stroke-width="1.05"/>
<circle cx="542.9" cy="426.4" r="7.6" fill="none" stroke="#000" stroke-width="1.05"/>
<circle cx="542.9" cy="426.4" r="5.9" fill="none" stroke="#333" stroke-width="0.6"/>
<circle cx="542.9" cy="426.4" r="4.8" fill="none" stroke="#333" stroke-width="0.6"/>
<circle cx="542.9" cy="426.4" r="3.2" fill="none" stroke="#000" stroke-width="1.05"/>
<circle cx="559.45" cy="426.4" r="7.6" fill="none" stroke="#000" stroke-width="1.05"/>
<circle cx="559.45" cy="426.4" r="5.9" fill="none" stroke="#333" stroke-width="0.6"/>
<circle cx="559.45" cy="426.4" r="4.8" fill="none" stroke="#333" stroke-width="0.6"/>
<circle cx="559.45" cy="426.4" r="3.2" fill="none" stroke="#000" stroke-width="1.05"/>
<circle cx="576" cy="426.4" r="7.6" fill="none" stroke="#000" stroke-width="1.05"/>
<circle cx="576" cy="426.4" r="5.9" fill="none" stroke="#333" stroke-width="0.6"/>
<circle cx="576" cy="426.4" r="4.8" fill="none" stroke="#333" stroke-width="0.6"/>
<circle cx="576" cy="426.4" r="3.2" fill="none" stroke="#000" stroke-width="1.05"/>
<circle cx="592.55" cy="426.4" r="7.6" fill="none" stroke="#000" stroke-width="1.05"/>
<circle cx="592.55" cy="426.4" r="5.9" fill="none" stroke="#333" stroke-width="0.6"/>
<circle cx="592.55" cy="426.4" r="4.8" fill="none" stroke="#333" stroke-width="0.6"/>
<circle cx="592.55" cy="426.4" r="3.2" fill="none" stroke="#000" stroke-width="1.05"/>
<circle cx="609.1" cy="426.4" r="7.6" fill="none" stroke="#000" stroke-width="1.05"/>
<circle cx="609.1" cy="426.4" r="5.9" fill="none" stroke="#333" stroke-width="0.6"/>
<circle cx="609.1" cy="426.4" r="4.8" fill="none" stroke="#333" stroke-width="0.6"/>
<circle cx="609.1" cy="426.4" r="3.2" fill="none" stroke="#000" stroke-width="1.05"/>
<circle cx="625.65" cy="426.4" r="7.6" fill="none" stroke="#000" stroke-width="1.05"/>
<circle cx="625.65" cy="426.4" r="5.9" fill="none" stroke="#333" stroke-width="0.6"/>
<circle cx="625.65" cy="426.4" r="4.8" fill="none" stroke="#333" stroke-width="0.6"/>
<circle cx="625.65" cy="426.4" r="3.2" fill="none" stroke="#000" stroke-width="1.05"/>
<circle cx="435.3" cy="442.9" r="7.6" fill="none" stroke="#000" stroke-width="1.05"/>
<circle cx="435.3" cy="442.9" r="5.9" fill="none" stroke="#333" stroke-width="0.6"/>
<circle cx="435.3" cy="442.9" r="4.8" fill="none" stroke="#333" stroke-width="0.6"/>
<circle cx="435.3" cy="442.9" r="3.2" fill="none" stroke="#000" stroke-width="1.05"/>
<circle cx="451.85" cy="442.9" r="7.6" fill="none" stroke="#000" stroke-width="1.05"/>
<circle cx="451.85" cy="442.9" r="5.9" fill="none" stroke="#333" stroke-width="0.6"/>
<circle cx="451.85" cy="442.9" r="4.8" fill="none" stroke="#333" stroke-width="0.6"/>
<circle cx="451.85" cy="442.9" r="3.2" fill="none" stroke="#000" stroke-width="1.05"/>
<circle cx="468.4" cy="442.9" r="7.6" fill="none" stroke="#000" stroke-width="1.05"/>
<circle cx="468.4" cy="442.9" r="5.9" fill="none" stroke="#333" stroke-width="0.6"/>
<circle cx="468.4" cy="442.9" r="4.8" fill="none" stroke="#333" stroke-width="0.6"/>
<circle cx="468.4" cy="442.9" r="3.2" fill="none" stroke="#000" stroke-width="1.05"/>
<circle cx="484.95" cy="442.9" r="7.6" fill="none" stroke="#000" stroke-width="1.05"/>
<circle cx="484.95" cy="442.9" r="5.9" fill="none" stroke="#333" stroke-width="0.6"/>
<circle cx="484.95" cy="442.9" r="4.8" fill="none" stroke="#333" stroke-width="0.6"/>
<circle cx="484.95" cy="442.9" r="3.2" fill="none" stroke="#000" stroke-width="1.05"/>
<circle cx="501.5" cy="442.9" r="7.6" fill="none" stroke="#000" stroke-width="1.05"/>
<circle cx="501.5" cy="442.9" r="5.9" fill="none" stroke="#333" stroke-width="0.6"/>
<circle cx="501.5" cy="442.9" r="4.8" fill="none" stroke="#333" stroke-width="0.6"/>
<circle cx="501.5" cy="442.9" r="3.2" fill="none" stroke="#000" stroke-width="1.05"/>
<circle cx="518.05" cy="442.9" r="7.6" fill="none" stroke="#000" stroke-width="1.05"/>
<circle cx="518.05" cy="442.9" r="5.9" fill="none" stroke="#333" stroke-width="0.6"/>
<circle cx="518.05" cy="442.9" r="4.8" fill="none" stroke="#333" stroke-width="0.6"/>
<circle cx="518.05" cy="442.9" r="3.2" fill="none" stroke="#000" stroke-width="1.05"/>
<circle cx="534.6" cy="442.9" r="7.6" fill="none" stroke="#000" stroke-width="1.05"/>
<circle cx="534.6" cy="442.9" r="5.9" fill="none" stroke="#333" stroke-width="0.6"/>
<circle cx="534.6" cy="442.9" r="4.8" fill="none" stroke="#333" stroke-width="0.6"/>
<circle cx="534.6" cy="442.9" r="3.2" fill="none" stroke="#000" stroke-width="1.05"/>
<circle cx="551.15" cy="442.9" r="7.6" fill="none" stroke="#000" stroke-width="1.05"/>
<circle cx="551.15" cy="442.9" r="5.9" fill="none" stroke="#333" stroke-width="0.6"/>
<circle cx="551.15" cy="442.9" r="4.8" fill="none" stroke="#333" stroke-width="0.6"/>
<circle cx="551.15" cy="442.9" r="3.2" fill="none" stroke="#000" stroke-width="1.05"/>
<circle cx="567.7" cy="442.9" r="7.6" fill="none" stroke="#000" stroke-width="1.05"/>
<circle cx="567.7" cy="442.9" r="5.9" fill="none" stroke="#333" stroke-width="0.6"/>
<circle cx="567.7" cy="442.9" r="4.8" fill="none" stroke="#333" stroke-width="0.6"/>
<circle cx="567.7" cy="442.9" r="3.2" fill="none" stroke="#000" stroke-width="1.05"/>
<circle cx="584.25" cy="442.9" r="7.6" fill="none" stroke="#000" stroke-width="1.05"/>
<circle cx="584.25" cy="442.9" r="5.9" fill="none" stroke="#333" stroke-width="0.6"/>
<circle cx="584.25" cy="442.9" r="4.8" fill="none" stroke="#333" stroke-width="0.6"/>
<circle cx="584.25" cy="442.9" r="3.2" fill="none" stroke="#000" stroke-width="1.05"/>
<circle cx="600.8" cy="442.9" r="7.6" fill="none" stroke="#000" stroke-width="1.05"/>
<circle cx="600.8" cy="442.9" r="5.9" fill="none" stroke="#333" stroke-width="0.6"/>
<circle cx="600.8" cy="442.9" r="4.8" fill="none" stroke="#333" stroke-width="0.6"/>
<circle cx="600.8" cy="442.9" r="3.2" fill="none" stroke="#000" stroke-width="1.05"/>
<circle cx="617.35" cy="442.9" r="7.6" fill="none" stroke="#000" stroke-width="1.05"/>
<circle cx="617.35" cy="442.9" r="5.9" fill="none" stroke="#333" stroke-width="0.6"/>
<circle cx="617.35" cy="442.9" r="4.8" fill="none" stroke="#333" stroke-width="0.6"/>
<circle cx="617.35" cy="442.9" r="3.2" fill="none" stroke="#000" stroke-width="1.05"/>
<circle cx="633.9" cy="442.9" r="7.6" fill="none" stroke="#000" stroke-width="1.05"/>
<circle cx="633.9" cy="442.9" r="5.9" fill="none" stroke="#333" stroke-width="0.6"/>
<circle cx="633.9" cy="442.9" r="4.8" fill="none" stroke="#333" stroke-width="0.6"/>
<circle cx="633.9" cy="442.9" r="3.2" fill="none" stroke="#000" stroke-width="1.05"/>
<circle cx="383.6" cy="434.4" r="10.7" fill="none" stroke="#000" stroke-width="1"/>
<path d="M383.14,421.11 A13.3,13.3 0 1 1 370.43,436.25" stroke="#000" stroke-width="1.0" fill="none" />
<circle cx="685.7" cy="434.4" r="10.7" fill="none" stroke="#000" stroke-width="1"/>
<path d="M685.24,421.11 A13.3,13.3 0 1 1 672.53,436.25" stroke="#000" stroke-width="1.0" fill="none" />
<line x1="344" y1="434.4" x2="378.8" y2="434.4" stroke="#000" stroke-width="1.1" />
<line x1="397" y1="434.4" x2="670.5" y2="434.4" stroke="#000" stroke-width="1.1" />
<line x1="690.3" y1="434.4" x2="724.3" y2="434.4" stroke="#000" stroke-width="1.1" />
<line x1="534.6" y1="392" x2="534.6" y2="476.5" stroke="#000" stroke-width="1.1" />
<line x1="383.6" y1="437" x2="383.6" y2="501" stroke="#000" stroke-width="1.1" />
<line x1="685.7" y1="437" x2="685.7" y2="501" stroke="#000" stroke-width="1.1" />
<line x1="383.6" y1="497.9" x2="685.7" y2="497.9" stroke="#000" stroke-width="1.1" />
<polygon points="383.6,497.9 390.6,496.45 390.6,499.35" fill="#000"/>
<polygon points="685.7,497.9 678.7,496.45 678.7,499.35" fill="#000"/>
<g role="img" aria-label="C" transform="translate(532,481.7) scale(1.26,1.16)" fill="none" stroke="#000" stroke-width="1.15" vector-effect="non-scaling-stroke" stroke-linecap="round" stroke-linejoin="round">
<path transform="translate(0,0) scale(0.88,1)" d="M5.4,2.7 A2.7,2.7 0 0 0 0,2.7 L0,7.3 A2.7,2.7 0 0 0 5.4,7.3" vector-effect="non-scaling-stroke"/>
</g>
<defs><clipPath id="cpS1"><polygon points="803.2,257.6 811.4,257.6 813.8,260.7 813.8,318.9 831.8,318.9 831.8,338.9 808.6,338.9 808.6,272.3 803.2,272.3"/></clipPath><clipPath id="cpS2"><polygon points="862.5,257.6 855.3,257.6 852.9,260.7 852.9,318.9 848.1,318.9 848.1,338.9 858,338.9 858,272.3 862.5,272.3"/></clipPath>
<clipPath id="cpS3"><rect x="831.8" y="319.29999999999995" width="4.3" height="19.6"/></clipPath><clipPath id="cpS4"><rect x="844.3" y="319.29999999999995" width="3.8" height="19.6"/></clipPath></defs>
<g clip-path="url(#cpS1)">
<line x1="708.4" y1="338.9" x2="779.1" y2="257.6" stroke="#000" stroke-width="1.0" />
<line x1="719.3" y1="338.9" x2="790" y2="257.6" stroke="#000" stroke-width="1.0" />
<line x1="730.2" y1="338.9" x2="800.9" y2="257.6" stroke="#000" stroke-width="1.0" />
<line x1="741.1" y1="338.9" x2="811.8" y2="257.6" stroke="#000" stroke-width="1.0" />
<line x1="752" y1="338.9" x2="822.7" y2="257.6" stroke="#000" stroke-width="1.0" />
<line x1="762.9" y1="338.9" x2="833.6" y2="257.6" stroke="#000" stroke-width="1.0" />
<line x1="773.8" y1="338.9" x2="844.5" y2="257.6" stroke="#000" stroke-width="1.0" />
<line x1="784.7" y1="338.9" x2="855.4" y2="257.6" stroke="#000" stroke-width="1.0" />
<line x1="795.6" y1="338.9" x2="866.3" y2="257.6" stroke="#000" stroke-width="1.0" />
<line x1="806.5" y1="338.9" x2="877.2" y2="257.6" stroke="#000" stroke-width="1.0" />
<line x1="817.4" y1="338.9" x2="888.1" y2="257.6" stroke="#000" stroke-width="1.0" />
<line x1="828.3" y1="338.9" x2="899" y2="257.6" stroke="#000" stroke-width="1.0" />
<line x1="839.2" y1="338.9" x2="909.9" y2="257.6" stroke="#000" stroke-width="1.0" />
<line x1="850.1" y1="338.9" x2="920.8" y2="257.6" stroke="#000" stroke-width="1.0" />
<line x1="861" y1="338.9" x2="931.7" y2="257.6" stroke="#000" stroke-width="1.0" />
<line x1="871.9" y1="338.9" x2="942.6" y2="257.6" stroke="#000" stroke-width="1.0" />
<line x1="882.8" y1="338.9" x2="953.5" y2="257.6" stroke="#000" stroke-width="1.0" />
<line x1="893.7" y1="338.9" x2="964.4" y2="257.6" stroke="#000" stroke-width="1.0" />
<line x1="904.6" y1="338.9" x2="975.3" y2="257.6" stroke="#000" stroke-width="1.0" />
<line x1="915.5" y1="338.9" x2="986.2" y2="257.6" stroke="#000" stroke-width="1.0" />
<line x1="926.4" y1="338.9" x2="997.1" y2="257.6" stroke="#000" stroke-width="1.0" />
</g>
<g clip-path="url(#cpS2)">
<line x1="754.5" y1="338.9" x2="825.2" y2="257.6" stroke="#000" stroke-width="1.0" />
<line x1="765.4" y1="338.9" x2="836.1" y2="257.6" stroke="#000" stroke-width="1.0" />
<line x1="776.3" y1="338.9" x2="847" y2="257.6" stroke="#000" stroke-width="1.0" />
<line x1="787.2" y1="338.9" x2="857.9" y2="257.6" stroke="#000" stroke-width="1.0" />
<line x1="798.1" y1="338.9" x2="868.8" y2="257.6" stroke="#000" stroke-width="1.0" />
<line x1="809" y1="338.9" x2="879.7" y2="257.6" stroke="#000" stroke-width="1.0" />
<line x1="819.9" y1="338.9" x2="890.6" y2="257.6" stroke="#000" stroke-width="1.0" />
<line x1="830.8" y1="338.9" x2="901.5" y2="257.6" stroke="#000" stroke-width="1.0" />
<line x1="841.7" y1="338.9" x2="912.4" y2="257.6" stroke="#000" stroke-width="1.0" />
<line x1="852.6" y1="338.9" x2="923.3" y2="257.6" stroke="#000" stroke-width="1.0" />
<line x1="863.5" y1="338.9" x2="934.2" y2="257.6" stroke="#000" stroke-width="1.0" />
<line x1="874.4" y1="338.9" x2="945.1" y2="257.6" stroke="#000" stroke-width="1.0" />
<line x1="885.3" y1="338.9" x2="956" y2="257.6" stroke="#000" stroke-width="1.0" />
<line x1="896.2" y1="338.9" x2="966.9" y2="257.6" stroke="#000" stroke-width="1.0" />
<line x1="907.1" y1="338.9" x2="977.8" y2="257.6" stroke="#000" stroke-width="1.0" />
<line x1="918" y1="338.9" x2="988.7" y2="257.6" stroke="#000" stroke-width="1.0" />
<line x1="928.9" y1="338.9" x2="999.6" y2="257.6" stroke="#000" stroke-width="1.0" />
<line x1="939.8" y1="338.9" x2="1010.5" y2="257.6" stroke="#000" stroke-width="1.0" />
<line x1="950.7" y1="338.9" x2="1021.4" y2="257.6" stroke="#000" stroke-width="1.0" />
</g>
<g clip-path="url(#cpS3)">
<line x1="831.8" y1="310.74" x2="836.1" y2="315.9" stroke="#000" stroke-width="0.8" />
<line x1="831.8" y1="313.74" x2="836.1" y2="318.9" stroke="#000" stroke-width="0.8" />
<line x1="831.8" y1="316.74" x2="836.1" y2="321.9" stroke="#000" stroke-width="0.8" />
<line x1="831.8" y1="319.74" x2="836.1" y2="324.9" stroke="#000" stroke-width="0.8" />
<line x1="831.8" y1="322.74" x2="836.1" y2="327.9" stroke="#000" stroke-width="0.8" />
<line x1="831.8" y1="325.74" x2="836.1" y2="330.9" stroke="#000" stroke-width="0.8" />
<line x1="831.8" y1="328.74" x2="836.1" y2="333.9" stroke="#000" stroke-width="0.8" />
<line x1="831.8" y1="331.74" x2="836.1" y2="336.9" stroke="#000" stroke-width="0.8" />
<line x1="831.8" y1="334.74" x2="836.1" y2="339.9" stroke="#000" stroke-width="0.8" />
<line x1="831.8" y1="337.74" x2="836.1" y2="342.9" stroke="#000" stroke-width="0.8" />
<line x1="831.8" y1="340.74" x2="836.1" y2="345.9" stroke="#000" stroke-width="0.8" />
</g>
<g clip-path="url(#cpS4)">
<line x1="844.3" y1="311.34" x2="848.1" y2="315.9" stroke="#000" stroke-width="0.8" />
<line x1="844.3" y1="314.34" x2="848.1" y2="318.9" stroke="#000" stroke-width="0.8" />
<line x1="844.3" y1="317.34" x2="848.1" y2="321.9" stroke="#000" stroke-width="0.8" />
<line x1="844.3" y1="320.34" x2="848.1" y2="324.9" stroke="#000" stroke-width="0.8" />
<line x1="844.3" y1="323.34" x2="848.1" y2="327.9" stroke="#000" stroke-width="0.8" />
<line x1="844.3" y1="326.34" x2="848.1" y2="330.9" stroke="#000" stroke-width="0.8" />
<line x1="844.3" y1="329.34" x2="848.1" y2="333.9" stroke="#000" stroke-width="0.8" />
<line x1="844.3" y1="332.34" x2="848.1" y2="336.9" stroke="#000" stroke-width="0.8" />
<line x1="844.3" y1="335.34" x2="848.1" y2="339.9" stroke="#000" stroke-width="0.8" />
<line x1="844.3" y1="338.34" x2="848.1" y2="342.9" stroke="#000" stroke-width="0.8" />
<line x1="844.3" y1="341.34" x2="848.1" y2="345.9" stroke="#000" stroke-width="0.8" />
</g>
<path d="M803.2,257.6 L862.5,257.6 L862.5,272.3 L858.0,272.3 L858.0,338.9 L808.6,338.9 L808.6,272.3 L803.2,272.3 Z" stroke="#000" stroke-width="1.1" fill="none" />
<path d="M811.4,257.6 L813.8,260.7 L813.8,318.9 L852.9,318.9 L852.9,260.7 L855.3,257.6" stroke="#000" stroke-width="1.1" fill="none" />
<line x1="813.8" y1="260.7" x2="852.9" y2="260.7" stroke="#000" stroke-width="0.9" />
<path d="M820.3,316.3 L820.3,267.1 L831.4,267.1 L831.4,316.3" stroke="#000" stroke-width="1.0" fill="none" />
<path d="M821.9,269.3 L829.8,269.3" stroke="#444" stroke-width="0.8" fill="none" />
<path d="M821.6999999999999,269 L821.6999999999999,309 M830.0,269 L830.0,309" stroke="#3a3a3a" stroke-width="1.5" fill="none" stroke-dasharray="1.2 1.0"/>
<path d="M822.9,270.5 L822.9,308 Q825.85,311.5 828.8,308 L828.8,270.5" stroke="#000" stroke-width="0.9" fill="none" />
<path d="M825.85,265.5 L825.85,305" stroke="#888" stroke-width="0.6" fill="none" />
<path d="M820.3,311.4 L831.4,311.4 M820.8,313.8 L830.9,313.8 M820.3,316.3 L831.4,316.3" stroke="#000" stroke-width="0.9" fill="none" />
<path d="M822.3,313.6 L825.3,311.4 M825.3,313.6 L828.3,311.4 M828.3,313.6 L830.9,311.8" stroke="#333" stroke-width="0.7" fill="none" />
<path d="M834.4,316.3 L834.4,267.1 L846.0,267.1 L846.0,316.3" stroke="#000" stroke-width="1.0" fill="none" />
<path d="M836.0,269.3 L844.4,269.3" stroke="#444" stroke-width="0.8" fill="none" />
<path d="M835.8,269 L835.8,309 M844.6,269 L844.6,309" stroke="#3a3a3a" stroke-width="1.5" fill="none" stroke-dasharray="1.2 1.0"/>
<path d="M837.0,270.5 L837.0,308 Q840.2,311.5 843.4,308 L843.4,270.5" stroke="#000" stroke-width="0.9" fill="none" />
<path d="M840.2,265.5 L840.2,305" stroke="#888" stroke-width="0.6" fill="none" />
<path d="M834.4,311.4 L846.0,311.4 M834.9,313.8 L845.5,313.8 M834.4,316.3 L846.0,316.3" stroke="#000" stroke-width="0.9" fill="none" />
<path d="M836.4,313.6 L839.4,311.4 M839.4,313.6 L842.4,311.4 M842.4,313.6 L845.5,311.8" stroke="#333" stroke-width="0.7" fill="none" />
<path d="M820.3,316.3 L822.5,318.9 M831.4,316.3 L830,318.9 M834.4,316.3 L836.1,318.9 M846,316.3 L844.3,318.9" stroke="#000" stroke-width="0.8" fill="none" />
<path d="M836.1,318.9 L836.1,365.5 L838.8,365.5 L838.8,376.3 L844.6,376.3 L844.6,318.9" stroke="#000" stroke-width="1.1" fill="none" />
<line x1="831.8" y1="318.9" x2="831.8" y2="338.9" stroke="#000" stroke-width="1.1" />
<line x1="848.1" y1="318.9" x2="848.1" y2="338.9" stroke="#000" stroke-width="1.1" />
<line x1="840.4" y1="332" x2="840.4" y2="376.3" stroke="#000" stroke-width="0.9" />
<path d="M821.9,338.9 L821.9,352.3 L825.4,352.3 L825.4,363.2 L829.8,363.2 L829.8,338.9" stroke="#000" stroke-width="1.1" fill="none" />
<line x1="825.8" y1="338.9" x2="825.8" y2="366" stroke="#000" stroke-width="0.8" />
<line x1="827.6" y1="338.9" x2="827.6" y2="352" stroke="#666" stroke-width="0.7" />
<line x1="838.8" y1="378.5" x2="838.8" y2="380.5" stroke="#000" stroke-width="1.1" />
<line x1="838.8" y1="383" x2="838.8" y2="424" stroke="#000" stroke-width="1.1" />
<line x1="843.6" y1="379" x2="843.6" y2="424" stroke="#000" stroke-width="1.1" />
<line x1="806.9" y1="245.1" x2="900.8" y2="245.1" stroke="#000" stroke-width="1.1" />
<line x1="820.5" y1="241.3" x2="820.5" y2="264.5" stroke="#000" stroke-width="1.1" />
<line x1="831.1" y1="241.3" x2="831.1" y2="264.5" stroke="#000" stroke-width="1.1" />
<polygon points="820.5,245.1 813.5,243.65 813.5,246.55" fill="#000"/>
<polygon points="831.1,245.1 838.1,243.65 838.1,246.55" fill="#000"/>
<g role="img" aria-label="n-Φ0.83" transform="translate(847.5,229.8) scale(1.05,1.02)" fill="none" stroke="#000" stroke-width="1.15" vector-effect="non-scaling-stroke" stroke-linecap="round" stroke-linejoin="round">
<path transform="translate(0,0) scale(0.88,1)" d="M0,3 L0,10 M0,5.3 A2.6,2.3 0 0 1 5.2,5.3 L5.2,10" vector-effect="non-scaling-stroke"/>
<path transform="translate(7.08,0) scale(0.88,1)" d="M0.3,5.9 L4.7,5.9" vector-effect="non-scaling-stroke"/>
<path transform="translate(13.98,0) scale(0.88,1)" d="M4.6,1.0 A3.1,4.5 12 1 1 4.59,1.0 Z M1.3,11.2 L5.9,-1.0" vector-effect="non-scaling-stroke"/>
<path transform="translate(22.81,0) scale(0.88,1)" d="M0,2.7 A2.7,2.7 0 0 1 5.4,2.7 L5.4,7.3 A2.7,2.7 0 0 1 0,7.3 Z" vector-effect="non-scaling-stroke"/>
<path transform="translate(30.06,0) scale(0.88,1)" d="M1.1,9.2 L1.1,10" vector-effect="non-scaling-stroke"/>
<path transform="translate(34.5,0) scale(0.88,1)" d="M2.7,4.9 A2.4,2.45 0 1 1 2.71,4.9 Z M2.7,4.9 A2.7,2.55 0 1 0 2.71,4.9 Z" vector-effect="non-scaling-stroke"/>
<path transform="translate(41.75,0) scale(0.88,1)" d="M0.2,2 A2.6,2.4 0 1 1 2.4,4.8 A2.8,2.6 0 1 1 0,8" vector-effect="non-scaling-stroke"/>
</g>
<line x1="775.5" y1="339.2" x2="806" y2="339.2" stroke="#000" stroke-width="1.1" />
<line x1="860" y1="339.2" x2="896" y2="339.2" stroke="#000" stroke-width="1.1" />
<line x1="778.6" y1="297.6" x2="778.6" y2="380.5" stroke="#000" stroke-width="1.1" />
<polygon points="778.6,339.2 777.15,332.2 780.05,332.2" fill="#000"/>
<polygon points="778.6,363 777.15,370 780.05,370" fill="#000"/>
<line x1="775.5" y1="363" x2="824" y2="363" stroke="#000" stroke-width="1.3" />
<g role="img" aria-label="1.6" transform="rotate(-90 775.2 317.5) translate(775.2,306.7) scale(1,1.08)" fill="none" stroke="#000" stroke-width="1.15" vector-effect="non-scaling-stroke" stroke-linecap="round" stroke-linejoin="round">
<path transform="translate(0,0) scale(0.88,1)" d="M0.5,2.8 L2.9,0 L2.9,10" vector-effect="non-scaling-stroke"/>
<path transform="translate(5.58,0) scale(0.88,1)" d="M1.1,9.2 L1.1,10" vector-effect="non-scaling-stroke"/>
<path transform="translate(10.02,0) scale(0.88,1)" d="M5,1.2 A2.6,2.4 0 0 0 0,2.8 L0,7.3 A2.7,2.7 0 1 0 5.4,7.3 L5.4,6.8 A2.7,2.7 0 0 0 0,6.8" vector-effect="non-scaling-stroke"/>
</g>
<line x1="788.6" y1="337" x2="788.6" y2="420.6" stroke="#000" stroke-width="1.1" />
<polygon points="788.6,352.3 787.15,345.3 790.05,345.3" fill="#000"/>
<polygon points="788.6,363 787.15,370 790.05,370" fill="#000"/>
<line x1="785.2" y1="352.3" x2="823.3" y2="352.3" stroke="#000" stroke-width="1.1" />
<g role="img" aria-label="n-0.7" transform="rotate(-90 784.9 417) translate(784.9,406.4) scale(1.08,1.06)" fill="none" stroke="#000" stroke-width="1.15" vector-effect="non-scaling-stroke" stroke-linecap="round" stroke-linejoin="round">
<path transform="translate(0,0) scale(0.88,1)" d="M0,3 L0,10 M0,5.3 A2.6,2.3 0 0 1 5.2,5.3 L5.2,10" vector-effect="non-scaling-stroke"/>
<path transform="translate(7.08,0) scale(0.88,1)" d="M0.3,5.9 L4.7,5.9" vector-effect="non-scaling-stroke"/>
<path transform="translate(13.98,0) scale(0.88,1)" d="M0,2.7 A2.7,2.7 0 0 1 5.4,2.7 L5.4,7.3 A2.7,2.7 0 0 1 0,7.3 Z" vector-effect="non-scaling-stroke"/>
<path transform="translate(21.23,0) scale(0.88,1)" d="M1.1,9.2 L1.1,10" vector-effect="non-scaling-stroke"/>
<path transform="translate(25.66,0) scale(0.88,1)" d="M0,0 L5.4,0 L2,10" vector-effect="non-scaling-stroke"/>
</g>
<line x1="786.3" y1="420.6" x2="857.6" y2="420.6" stroke="#000" stroke-width="1.1" />
<polygon points="838.7,420.6 831.7,419.15 831.7,422.05" fill="#000"/>
<polygon points="843.6,420.6 850.6,419.15 850.6,422.05" fill="#000"/>
<g role="img" aria-label="n-0.4" transform="translate(789.8,404.7) scale(1.02,1.1)" fill="none" stroke="#000" stroke-width="1.15" vector-effect="non-scaling-stroke" stroke-linecap="round" stroke-linejoin="round">
<path transform="translate(0,0) scale(0.88,1)" d="M0,3 L0,10 M0,5.3 A2.6,2.3 0 0 1 5.2,5.3 L5.2,10" vector-effect="non-scaling-stroke"/>
<path transform="translate(7.08,0) scale(0.88,1)" d="M0.3,5.9 L4.7,5.9" vector-effect="non-scaling-stroke"/>
<path transform="translate(13.98,0) scale(0.88,1)" d="M0,2.7 A2.7,2.7 0 0 1 5.4,2.7 L5.4,7.3 A2.7,2.7 0 0 1 0,7.3 Z" vector-effect="non-scaling-stroke"/>
<path transform="translate(21.23,0) scale(0.88,1)" d="M1.1,9.2 L1.1,10" vector-effect="non-scaling-stroke"/>
<path transform="translate(25.66,0) scale(0.88,1)" d="M4.2,10 L4.2,0 L0,7 L5.6,7" vector-effect="non-scaling-stroke"/>
</g>
<line x1="845.5" y1="376.3" x2="896" y2="376.3" stroke="#000" stroke-width="1.1" />
<line x1="893" y1="339.2" x2="893" y2="376.3" stroke="#000" stroke-width="1.1" />
<polygon points="893,339.2 891.55,346.2 894.45,346.2" fill="#000"/>
<polygon points="893,376.3 891.55,369.3 894.45,369.3" fill="#000"/>
<g role="img" aria-label="2.5" transform="rotate(-90 888.4 366.6) translate(888.4,356.9) scale(1.02,0.97)" fill="none" stroke="#000" stroke-width="1.15" vector-effect="non-scaling-stroke" stroke-linecap="round" stroke-linejoin="round">
<path transform="translate(0,0) scale(0.88,1)" d="M0,2.7 A2.7,2.7 0 0 1 5.4,2.7 C5.4,4.6 2.6,6.2 0,10 L5.4,10" vector-effect="non-scaling-stroke"/>
<path transform="translate(7.25,0) scale(0.88,1)" d="M1.1,9.2 L1.1,10" vector-effect="non-scaling-stroke"/>
<path transform="translate(11.69,0) scale(0.88,1)" d="M5,0 L0.5,0 L0.3,4.3 C1.5,3.4 5.4,3.2 5.4,6.8 A2.7,3.2 0 0 1 0,8" vector-effect="non-scaling-stroke"/>
</g>
<defs>
<linearGradient id="gBody" gradientUnits="userSpaceOnUse" x1="54" y1="0" x2="84" y2="0"><stop offset="0" stop-color="#b6b604"/><stop offset="0.25" stop-color="#acac02"/><stop offset="0.48" stop-color="#a5a502"/><stop offset="0.75" stop-color="#b3b214"/><stop offset="1" stop-color="#bebc1d"/></linearGradient>
<linearGradient id="gRim" gradientUnits="userSpaceOnUse" x1="46" y1="0" x2="240" y2="0"><stop offset="0" stop-color="#dcde24"/><stop offset="0.0433" stop-color="#d2d41a"/><stop offset="0.0825" stop-color="#b9b908"/><stop offset="0.1211" stop-color="#a8a804"/><stop offset="0.1598" stop-color="#b4b316"/><stop offset="0.1959" stop-color="#bebc1d"/><stop offset="0.9072" stop-color="#bebc1d"/><stop offset="0.9536" stop-color="#cbcd16"/><stop offset="1" stop-color="#d3d518"/></linearGradient>
<filter id="soft" x="-5%" y="-5%" width="110%" height="110%"><feGaussianBlur stdDeviation="0.7"/></filter>
<filter id="soft2" x="-20%" y="-20%" width="140%" height="140%"><feGaussianBlur stdDeviation="0.45"/></filter>
</defs>
<g filter="url(#soft)">
<rect x="97.3" y="358.76" width="3.9" height="15.92" rx="1.2" fill="#b1b118"/>
<rect x="97.3" y="358.76" width="1.3" height="15.72" rx="0.6" fill="#c9c92c"/>
<rect x="105.2" y="352.36" width="3.9" height="16.04" rx="1.2" fill="#b1b118"/>
<rect x="105.2" y="352.36" width="1.3" height="15.84" rx="0.6" fill="#c9c92c"/>
<rect x="113.1" y="345.96" width="3.9" height="16.17" rx="1.2" fill="#b1b118"/>
<rect x="113.1" y="345.96" width="1.3" height="15.97" rx="0.6" fill="#c9c92c"/>
<rect x="121" y="339.56" width="3.9" height="16.3" rx="1.2" fill="#b1b118"/>
<rect x="121" y="339.56" width="1.3" height="16.1" rx="0.6" fill="#c9c92c"/>
<rect x="128.9" y="333.17" width="3.9" height="16.42" rx="1.2" fill="#b1b118"/>
<rect x="128.9" y="333.17" width="1.3" height="16.22" rx="0.6" fill="#c9c92c"/>
<rect x="136.8" y="326.77" width="3.9" height="16.55" rx="1.2" fill="#b1b118"/>
<rect x="136.8" y="326.77" width="1.3" height="16.35" rx="0.6" fill="#c9c92c"/>
<rect x="144.7" y="320.37" width="3.9" height="16.68" rx="1.2" fill="#b1b118"/>
<rect x="144.7" y="320.37" width="1.3" height="16.48" rx="0.6" fill="#c9c92c"/>
<rect x="152.6" y="313.97" width="3.9" height="16.8" rx="1.2" fill="#b1b118"/>
<rect x="152.6" y="313.97" width="1.3" height="16.6" rx="0.6" fill="#c9c92c"/>
<rect x="160.5" y="307.57" width="3.9" height="16.93" rx="1.2" fill="#b1b118"/>
<rect x="160.5" y="307.57" width="1.3" height="16.73" rx="0.6" fill="#c9c92c"/>
<rect x="168.4" y="301.17" width="3.9" height="17.06" rx="1.2" fill="#b1b118"/>
<rect x="168.4" y="301.17" width="1.3" height="16.86" rx="0.6" fill="#c9c92c"/>
<rect x="176.3" y="294.77" width="3.9" height="17.18" rx="1.2" fill="#b1b118"/>
<rect x="176.3" y="294.77" width="1.3" height="16.98" rx="0.6" fill="#c9c92c"/>
<rect x="184.2" y="288.37" width="3.9" height="17.31" rx="1.2" fill="#b1b118"/>
<rect x="184.2" y="288.37" width="1.3" height="17.11" rx="0.6" fill="#c9c92c"/>
<rect x="192.1" y="281.97" width="3.9" height="17.43" rx="1.2" fill="#b1b118"/>
<rect x="192.1" y="281.97" width="1.3" height="17.23" rx="0.6" fill="#c9c92c"/>
<path d="M54.8,314.72 L54.8,361 C54.8,370 58.5,375.3 65.5,378 C71,380.6 76,380.4 80.5,377.4 L231.2,254.4 L231.2,200 Z" stroke="none" stroke-width="0" fill="url(#gBody)" />
<path d="M203.66,181.93 Q215.38,172.57 225.29,180.99 L232.88,187.45 Q242.79,195.87 230.35,205.93 L86.7,322.13 Q74.26,332.19 63.86,324.39 L54.3,317.22 Q43.9,309.42 55.62,300.07 Z" stroke="none" stroke-width="0" fill="url(#gRim)" />
<path d="M203.66,182.43 Q215.38,173.07 225.29,181.49 L232.88,187.95 Q242.79,196.37 230.35,206.43 L86.7,322.63 Q74.26,332.69 63.86,324.89 L54.3,317.72 Q43.9,309.92 55.62,300.57 Z" stroke="none" stroke-width="0" fill="url(#gRim)" />
<path d="M203.66,182.93 Q215.38,173.57 225.29,181.99 L232.88,188.45 Q242.79,196.87 230.35,206.93 L86.7,323.13 Q74.26,333.19 63.86,325.39 L54.3,318.22 Q43.9,310.42 55.62,301.07 Z" stroke="none" stroke-width="0" fill="url(#gRim)" />
<path d="M203.66,183.43 Q215.38,174.07 225.29,182.49 L232.88,188.95 Q242.79,197.37 230.35,207.43 L86.7,323.63 Q74.26,333.69 63.86,325.89 L54.3,318.72 Q43.9,310.92 55.62,301.57 Z" stroke="none" stroke-width="0" fill="url(#gRim)" />
<path d="M203.66,183.93 Q215.38,174.57 225.29,182.99 L232.88,189.45 Q242.79,197.87 230.35,207.93 L86.7,324.13 Q74.26,334.19 63.86,326.39 L54.3,319.22 Q43.9,311.42 55.62,302.07 Z" stroke="none" stroke-width="0" fill="url(#gRim)" />
<path d="M203.66,184.43 Q215.38,175.07 225.29,183.49 L232.88,189.95 Q242.79,198.37 230.35,208.43 L86.7,324.63 Q74.26,334.69 63.86,326.89 L54.3,319.72 Q43.9,311.92 55.62,302.57 Z" stroke="none" stroke-width="0" fill="url(#gRim)" />
<path d="M203.66,184.93 Q215.38,175.57 225.29,183.99 L232.88,190.45 Q242.79,198.87 230.35,208.93 L86.7,325.13 Q74.26,335.19 63.86,327.39 L54.3,320.22 Q43.9,312.42 55.62,303.07 Z" stroke="none" stroke-width="0" fill="url(#gRim)" />
<path d="M203.66,185.43 Q215.38,176.07 225.29,184.49 L232.88,190.95 Q242.79,199.37 230.35,209.43 L86.7,325.63 Q74.26,335.69 63.86,327.89 L54.3,320.72 Q43.9,312.92 55.62,303.57 Z" stroke="none" stroke-width="0" fill="url(#gRim)" />
<path d="M203.66,185.93 Q215.38,176.57 225.29,184.99 L232.88,191.45 Q242.79,199.87 230.35,209.93 L86.7,326.13 Q74.26,336.19 63.86,328.39 L54.3,321.22 Q43.9,313.42 55.62,304.07 Z" stroke="none" stroke-width="0" fill="url(#gRim)" />
<path d="M203.66,186.43 Q215.38,177.07 225.29,185.49 L232.88,191.95 Q242.79,200.37 230.35,210.43 L86.7,326.63 Q74.26,336.69 63.86,328.89 L54.3,321.72 Q43.9,313.92 55.62,304.57 Z" stroke="none" stroke-width="0" fill="url(#gRim)" />
<path d="M203.66,186.93 Q215.38,177.57 225.29,185.99 L232.88,192.45 Q242.79,200.87 230.35,210.93 L86.7,327.13 Q74.26,337.19 63.86,329.39 L54.3,322.22 Q43.9,314.42 55.62,305.07 Z" stroke="none" stroke-width="0" fill="url(#gRim)" />
<path d="M203.66,187.43 Q215.38,178.07 225.29,186.49 L232.88,192.95 Q242.79,201.37 230.35,211.43 L86.7,327.63 Q74.26,337.69 63.86,329.89 L54.3,322.72 Q43.9,314.92 55.62,305.57 Z" stroke="none" stroke-width="0" fill="url(#gRim)" />
<path d="M203.66,187.93 Q215.38,178.57 225.29,186.99 L232.88,193.45 Q242.79,201.87 230.35,211.93 L86.7,328.13 Q74.26,338.19 63.86,330.39 L54.3,323.22 Q43.9,315.42 55.62,306.07 Z" stroke="none" stroke-width="0" fill="url(#gRim)" />
<path d="M203.66,188.43 Q215.38,179.07 225.29,187.49 L232.88,193.95 Q242.79,202.37 230.35,212.43 L86.7,328.63 Q74.26,338.69 63.86,330.89 L54.3,323.72 Q43.9,315.92 55.62,306.57 Z" stroke="none" stroke-width="0" fill="url(#gRim)" />
<path d="M203.66,188.93 Q215.38,179.57 225.29,187.99 L232.88,194.45 Q242.79,202.87 230.35,212.93 L86.7,329.13 Q74.26,339.19 63.86,331.39 L54.3,324.22 Q43.9,316.42 55.62,307.07 Z" stroke="none" stroke-width="0" fill="url(#gRim)" />
<path d="M203.66,189.43 Q215.38,180.07 225.29,188.49 L232.88,194.95 Q242.79,203.37 230.35,213.43 L86.7,329.63 Q74.26,339.69 63.86,331.89 L54.3,324.72 Q43.9,316.92 55.62,307.57 Z" stroke="none" stroke-width="0" fill="url(#gRim)" />
<path d="M203.66,189.93 Q215.38,180.57 225.29,188.99 L232.88,195.45 Q242.79,203.87 230.35,213.93 L86.7,330.13 Q74.26,340.19 63.86,332.39 L54.3,325.22 Q43.9,317.42 55.62,308.07 Z" stroke="none" stroke-width="0" fill="url(#gRim)" />
<path d="M203.66,190.43 Q215.38,181.07 225.29,189.49 L232.88,195.95 Q242.79,204.37 230.35,214.43 L86.7,330.63 Q74.26,340.69 63.86,332.89 L54.3,325.72 Q43.9,317.92 55.62,308.57 Z" stroke="none" stroke-width="0" fill="url(#gRim)" />
<path d="M203.66,190.93 Q215.38,181.57 225.29,189.99 L232.88,196.45 Q242.79,204.87 230.35,214.93 L86.7,331.13 Q74.26,341.19 63.86,333.39 L54.3,326.22 Q43.9,318.42 55.62,309.07 Z" stroke="none" stroke-width="0" fill="url(#gRim)" />
<path d="M203.66,181.93 Q215.38,172.57 225.29,180.99 L232.88,187.45 Q242.79,195.87 230.35,205.93 L86.7,322.13 Q74.26,332.19 63.86,324.39 L54.3,317.22 Q43.9,309.42 55.62,300.07 Z" stroke="none" stroke-width="0" fill="#d6d808" />
</g>
<g filter="url(#soft)">
<path d="M88.21,285.14 Q87.5,282.23 92.19,278.48 L178.75,209.41 Q185,204.42 192.43,209.5 L198.22,213.45 Q204,217.4 202.46,221.09 L202.74,220.42 Q201.2,224.11 196.5,227.83 L103.77,301.23 Q97.5,306.19 93.99,302.63 L95.51,304.16 Q92,300.6 91.29,297.69 Z" stroke="none" stroke-width="0" fill="#c6c81f" />
<path d="M93.16,290.56 Q92.5,287.63 96.41,284.52 L178.53,218.98 Q184,214.62 191.49,217.43 L191.38,217.39 Q197,219.5 197.48,222.46 L197.52,222.74 Q198,225.7 194.08,228.8 L103.7,300.45 Q99,304.18 96.45,301.1 L97.75,302.68 Q95.2,299.6 94.54,296.67 Z" stroke="none" stroke-width="0" fill="#bbbd1b" />
<path d="M87.8,282.89 L91.6,283.35 L95.4,298.8 L92.4,299.8 Z" stroke="none" stroke-width="0" fill="#a3a412" />
<path d="M181,207.61 Q188,199.5 196,207.5 Q202.5,213 203.6,217.4 L200.8,222.83 L198,223.7 L198.2,219 Q196,213.5 190.5,210 Q184,205.5 177,216.4 Z" stroke="none" stroke-width="0" fill="#dfe038" />
</g>
<g filter="url(#soft2)">
<rect x="93.6" y="290.12" width="5.0" height="4.6" rx="1.6" fill="#a5a612"/>
<ellipse cx="96.3" cy="291.22" rx="2.9" ry="2.5" fill="#9fa010"/>
<ellipse cx="95.9" cy="289.82" rx="2.6" ry="2.5" fill="#d2d32c"/>
<ellipse cx="95.6" cy="288.82" rx="1.7" ry="1.5" fill="#eff056"/>
<rect x="101.53" y="283.79" width="5.0" height="4.6" rx="1.6" fill="#a5a612"/>
<ellipse cx="104.23" cy="284.89" rx="2.9" ry="2.5" fill="#9fa010"/>
<ellipse cx="103.83" cy="283.49" rx="2.6" ry="2.5" fill="#d2d32c"/>
<ellipse cx="103.53" cy="282.49" rx="1.7" ry="1.5" fill="#eff056"/>
<rect x="109.46" y="277.47" width="5.0" height="4.6" rx="1.6" fill="#a5a612"/>
<ellipse cx="112.16" cy="278.57" rx="2.9" ry="2.5" fill="#9fa010"/>
<ellipse cx="111.76" cy="277.17" rx="2.6" ry="2.5" fill="#d2d32c"/>
<ellipse cx="111.46" cy="276.17" rx="1.7" ry="1.5" fill="#eff056"/>
<rect x="117.39" y="271.14" width="5.0" height="4.6" rx="1.6" fill="#a5a612"/>
<ellipse cx="120.09" cy="272.24" rx="2.9" ry="2.5" fill="#9fa010"/>
<ellipse cx="119.69" cy="270.84" rx="2.6" ry="2.5" fill="#d2d32c"/>
<ellipse cx="119.39" cy="269.84" rx="1.7" ry="1.5" fill="#eff056"/>
<rect x="125.32" y="264.81" width="5.0" height="4.6" rx="1.6" fill="#a5a612"/>
<ellipse cx="128.02" cy="265.91" rx="2.9" ry="2.5" fill="#9fa010"/>
<ellipse cx="127.62" cy="264.51" rx="2.6" ry="2.5" fill="#d2d32c"/>
<ellipse cx="127.32" cy="263.51" rx="1.7" ry="1.5" fill="#eff056"/>
<rect x="133.25" y="258.48" width="5.0" height="4.6" rx="1.6" fill="#a5a612"/>
<ellipse cx="135.95" cy="259.58" rx="2.9" ry="2.5" fill="#9fa010"/>
<ellipse cx="135.55" cy="258.18" rx="2.6" ry="2.5" fill="#d2d32c"/>
<ellipse cx="135.25" cy="257.18" rx="1.7" ry="1.5" fill="#eff056"/>
<rect x="141.18" y="252.15" width="5.0" height="4.6" rx="1.6" fill="#a5a612"/>
<ellipse cx="143.88" cy="253.25" rx="2.9" ry="2.5" fill="#9fa010"/>
<ellipse cx="143.48" cy="251.85" rx="2.6" ry="2.5" fill="#d2d32c"/>
<ellipse cx="143.18" cy="250.85" rx="1.7" ry="1.5" fill="#eff056"/>
<rect x="149.11" y="245.82" width="5.0" height="4.6" rx="1.6" fill="#a5a612"/>
<ellipse cx="151.81" cy="246.92" rx="2.9" ry="2.5" fill="#9fa010"/>
<ellipse cx="151.41" cy="245.52" rx="2.6" ry="2.5" fill="#d2d32c"/>
<ellipse cx="151.11" cy="244.52" rx="1.7" ry="1.5" fill="#eff056"/>
<rect x="157.04" y="239.5" width="5.0" height="4.6" rx="1.6" fill="#a5a612"/>
<ellipse cx="159.74" cy="240.6" rx="2.9" ry="2.5" fill="#9fa010"/>
<ellipse cx="159.34" cy="239.2" rx="2.6" ry="2.5" fill="#d2d32c"/>
<ellipse cx="159.04" cy="238.2" rx="1.7" ry="1.5" fill="#eff056"/>
<rect x="164.97" y="233.17" width="5.0" height="4.6" rx="1.6" fill="#a5a612"/>
<ellipse cx="167.67" cy="234.27" rx="2.9" ry="2.5" fill="#9fa010"/>
<ellipse cx="167.27" cy="232.87" rx="2.6" ry="2.5" fill="#d2d32c"/>
<ellipse cx="166.97" cy="231.87" rx="1.7" ry="1.5" fill="#eff056"/>
<rect x="172.9" y="226.84" width="5.0" height="4.6" rx="1.6" fill="#a5a612"/>
<ellipse cx="175.6" cy="227.94" rx="2.9" ry="2.5" fill="#9fa010"/>
<ellipse cx="175.2" cy="226.54" rx="2.6" ry="2.5" fill="#d2d32c"/>
<ellipse cx="174.9" cy="225.54" rx="1.7" ry="1.5" fill="#eff056"/>
<rect x="180.83" y="220.51" width="5.0" height="4.6" rx="1.6" fill="#a5a612"/>
<ellipse cx="183.53" cy="221.61" rx="2.9" ry="2.5" fill="#9fa010"/>
<ellipse cx="183.13" cy="220.21" rx="2.6" ry="2.5" fill="#d2d32c"/>
<ellipse cx="182.83" cy="219.21" rx="1.7" ry="1.5" fill="#eff056"/>
<rect x="96.2" y="300.35" width="5.0" height="2.6" rx="1.6" fill="#a5a612"/>
<ellipse cx="98.9" cy="301.45" rx="2.9" ry="2.5" fill="#9fa010"/>
<ellipse cx="98.5" cy="300.05" rx="2.6" ry="2.5" fill="#d2d32c"/>
<ellipse cx="98.2" cy="299.05" rx="1.7" ry="1.5" fill="#eff056"/>
<rect x="104.18" y="293.98" width="5.0" height="2.6" rx="1.6" fill="#a5a612"/>
<ellipse cx="106.88" cy="295.08" rx="2.9" ry="2.5" fill="#9fa010"/>
<ellipse cx="106.48" cy="293.68" rx="2.6" ry="2.5" fill="#d2d32c"/>
<ellipse cx="106.18" cy="292.68" rx="1.7" ry="1.5" fill="#eff056"/>
<rect x="112.16" y="287.61" width="5.0" height="2.6" rx="1.6" fill="#a5a612"/>
<ellipse cx="114.86" cy="288.71" rx="2.9" ry="2.5" fill="#9fa010"/>
<ellipse cx="114.46" cy="287.31" rx="2.6" ry="2.5" fill="#d2d32c"/>
<ellipse cx="114.16" cy="286.31" rx="1.7" ry="1.5" fill="#eff056"/>
<rect x="120.14" y="281.24" width="5.0" height="2.6" rx="1.6" fill="#a5a612"/>
<ellipse cx="122.84" cy="282.34" rx="2.9" ry="2.5" fill="#9fa010"/>
<ellipse cx="122.44" cy="280.94" rx="2.6" ry="2.5" fill="#d2d32c"/>
<ellipse cx="122.14" cy="279.94" rx="1.7" ry="1.5" fill="#eff056"/>
<rect x="128.12" y="274.87" width="5.0" height="2.6" rx="1.6" fill="#a5a612"/>
<ellipse cx="130.82" cy="275.97" rx="2.9" ry="2.5" fill="#9fa010"/>
<ellipse cx="130.42" cy="274.57" rx="2.6" ry="2.5" fill="#d2d32c"/>
<ellipse cx="130.12" cy="273.57" rx="1.7" ry="1.5" fill="#eff056"/>
<rect x="136.1" y="268.51" width="5.0" height="2.6" rx="1.6" fill="#a5a612"/>
<ellipse cx="138.8" cy="269.61" rx="2.9" ry="2.5" fill="#9fa010"/>
<ellipse cx="138.4" cy="268.21" rx="2.6" ry="2.5" fill="#d2d32c"/>
<ellipse cx="138.1" cy="267.21" rx="1.7" ry="1.5" fill="#eff056"/>
<rect x="144.08" y="262.14" width="5.0" height="2.6" rx="1.6" fill="#a5a612"/>
<ellipse cx="146.78" cy="263.24" rx="2.9" ry="2.5" fill="#9fa010"/>
<ellipse cx="146.38" cy="261.84" rx="2.6" ry="2.5" fill="#d2d32c"/>
<ellipse cx="146.08" cy="260.84" rx="1.7" ry="1.5" fill="#eff056"/>
<rect x="152.06" y="255.77" width="5.0" height="2.6" rx="1.6" fill="#a5a612"/>
<ellipse cx="154.76" cy="256.87" rx="2.9" ry="2.5" fill="#9fa010"/>
<ellipse cx="154.36" cy="255.47" rx="2.6" ry="2.5" fill="#d2d32c"/>
<ellipse cx="154.06" cy="254.47" rx="1.7" ry="1.5" fill="#eff056"/>
<rect x="160.04" y="249.4" width="5.0" height="2.6" rx="1.6" fill="#a5a612"/>
<ellipse cx="162.74" cy="250.5" rx="2.9" ry="2.5" fill="#9fa010"/>
<ellipse cx="162.34" cy="249.1" rx="2.6" ry="2.5" fill="#d2d32c"/>
<ellipse cx="162.04" cy="248.1" rx="1.7" ry="1.5" fill="#eff056"/>
<rect x="168.02" y="243.03" width="5.0" height="2.6" rx="1.6" fill="#a5a612"/>
<ellipse cx="170.72" cy="244.13" rx="2.9" ry="2.5" fill="#9fa010"/>
<ellipse cx="170.32" cy="242.73" rx="2.6" ry="2.5" fill="#d2d32c"/>
<ellipse cx="170.02" cy="241.73" rx="1.7" ry="1.5" fill="#eff056"/>
<rect x="176" y="236.67" width="5.0" height="2.6" rx="1.6" fill="#a5a612"/>
<ellipse cx="178.7" cy="237.77" rx="2.9" ry="2.5" fill="#9fa010"/>
<ellipse cx="178.3" cy="236.37" rx="2.6" ry="2.5" fill="#d2d32c"/>
<ellipse cx="178" cy="235.37" rx="1.7" ry="1.5" fill="#eff056"/>
<rect x="183.98" y="230.3" width="5.0" height="2.6" rx="1.6" fill="#a5a612"/>
<ellipse cx="186.68" cy="231.4" rx="2.9" ry="2.5" fill="#9fa010"/>
<ellipse cx="186.28" cy="230" rx="2.6" ry="2.5" fill="#d2d32c"/>
<ellipse cx="185.98" cy="229" rx="1.7" ry="1.5" fill="#eff056"/>
<rect x="191.96" y="223.93" width="5.0" height="2.6" rx="1.6" fill="#a5a612"/>
<ellipse cx="194.66" cy="225.03" rx="2.9" ry="2.5" fill="#9fa010"/>
<ellipse cx="194.26" cy="223.63" rx="2.6" ry="2.5" fill="#d2d32c"/>
<ellipse cx="193.96" cy="222.63" rx="1.7" ry="1.5" fill="#eff056"/>
<ellipse cx="215.6" cy="194.6" rx="7.9" ry="6.2" fill="#c9cb1a" transform="rotate(-12 215.6 194.6)"/>
<ellipse cx="215.9" cy="195.2" rx="6.8" ry="5.2" fill="#9a9c08" transform="rotate(-12 215.6 194.6)"/>
<path d="M210.2,192.7 Q214.6,187.5 220.8,191" stroke="#eef065" stroke-width="1.45" fill="none" stroke-linecap="round"/>
<path d="M209,195.3 Q214.6,190.1 222,193.6" stroke="#eef065" stroke-width="1.45" fill="none" stroke-linecap="round"/>
<path d="M209.2,198 Q214.6,192.8 221.8,196.3" stroke="#eef065" stroke-width="1.45" fill="none" stroke-linecap="round"/>
<path d="M211,200.5 Q214.6,195.3 220,198.8" stroke="#eef065" stroke-width="1.45" fill="none" stroke-linecap="round"/>
<ellipse cx="71.9" cy="311" rx="7.9" ry="6.2" fill="#c9cb1a" transform="rotate(-12 71.9 311)"/>
<ellipse cx="72.2" cy="311.6" rx="6.8" ry="5.2" fill="#9a9c08" transform="rotate(-12 71.9 311)"/>
<path d="M66.5,309.1 Q70.9,303.9 77.1,307.4" stroke="#eef065" stroke-width="1.45" fill="none" stroke-linecap="round"/>
<path d="M65.3,311.7 Q70.9,306.5 78.3,310" stroke="#eef065" stroke-width="1.45" fill="none" stroke-linecap="round"/>
<path d="M65.5,314.4 Q70.9,309.2 78.1,312.7" stroke="#eef065" stroke-width="1.45" fill="none" stroke-linecap="round"/>
<path d="M67.3,316.9 Q70.9,311.7 76.3,315.2" stroke="#eef065" stroke-width="1.45" fill="none" stroke-linecap="round"/>
</g>
</svg>
</body></html>
